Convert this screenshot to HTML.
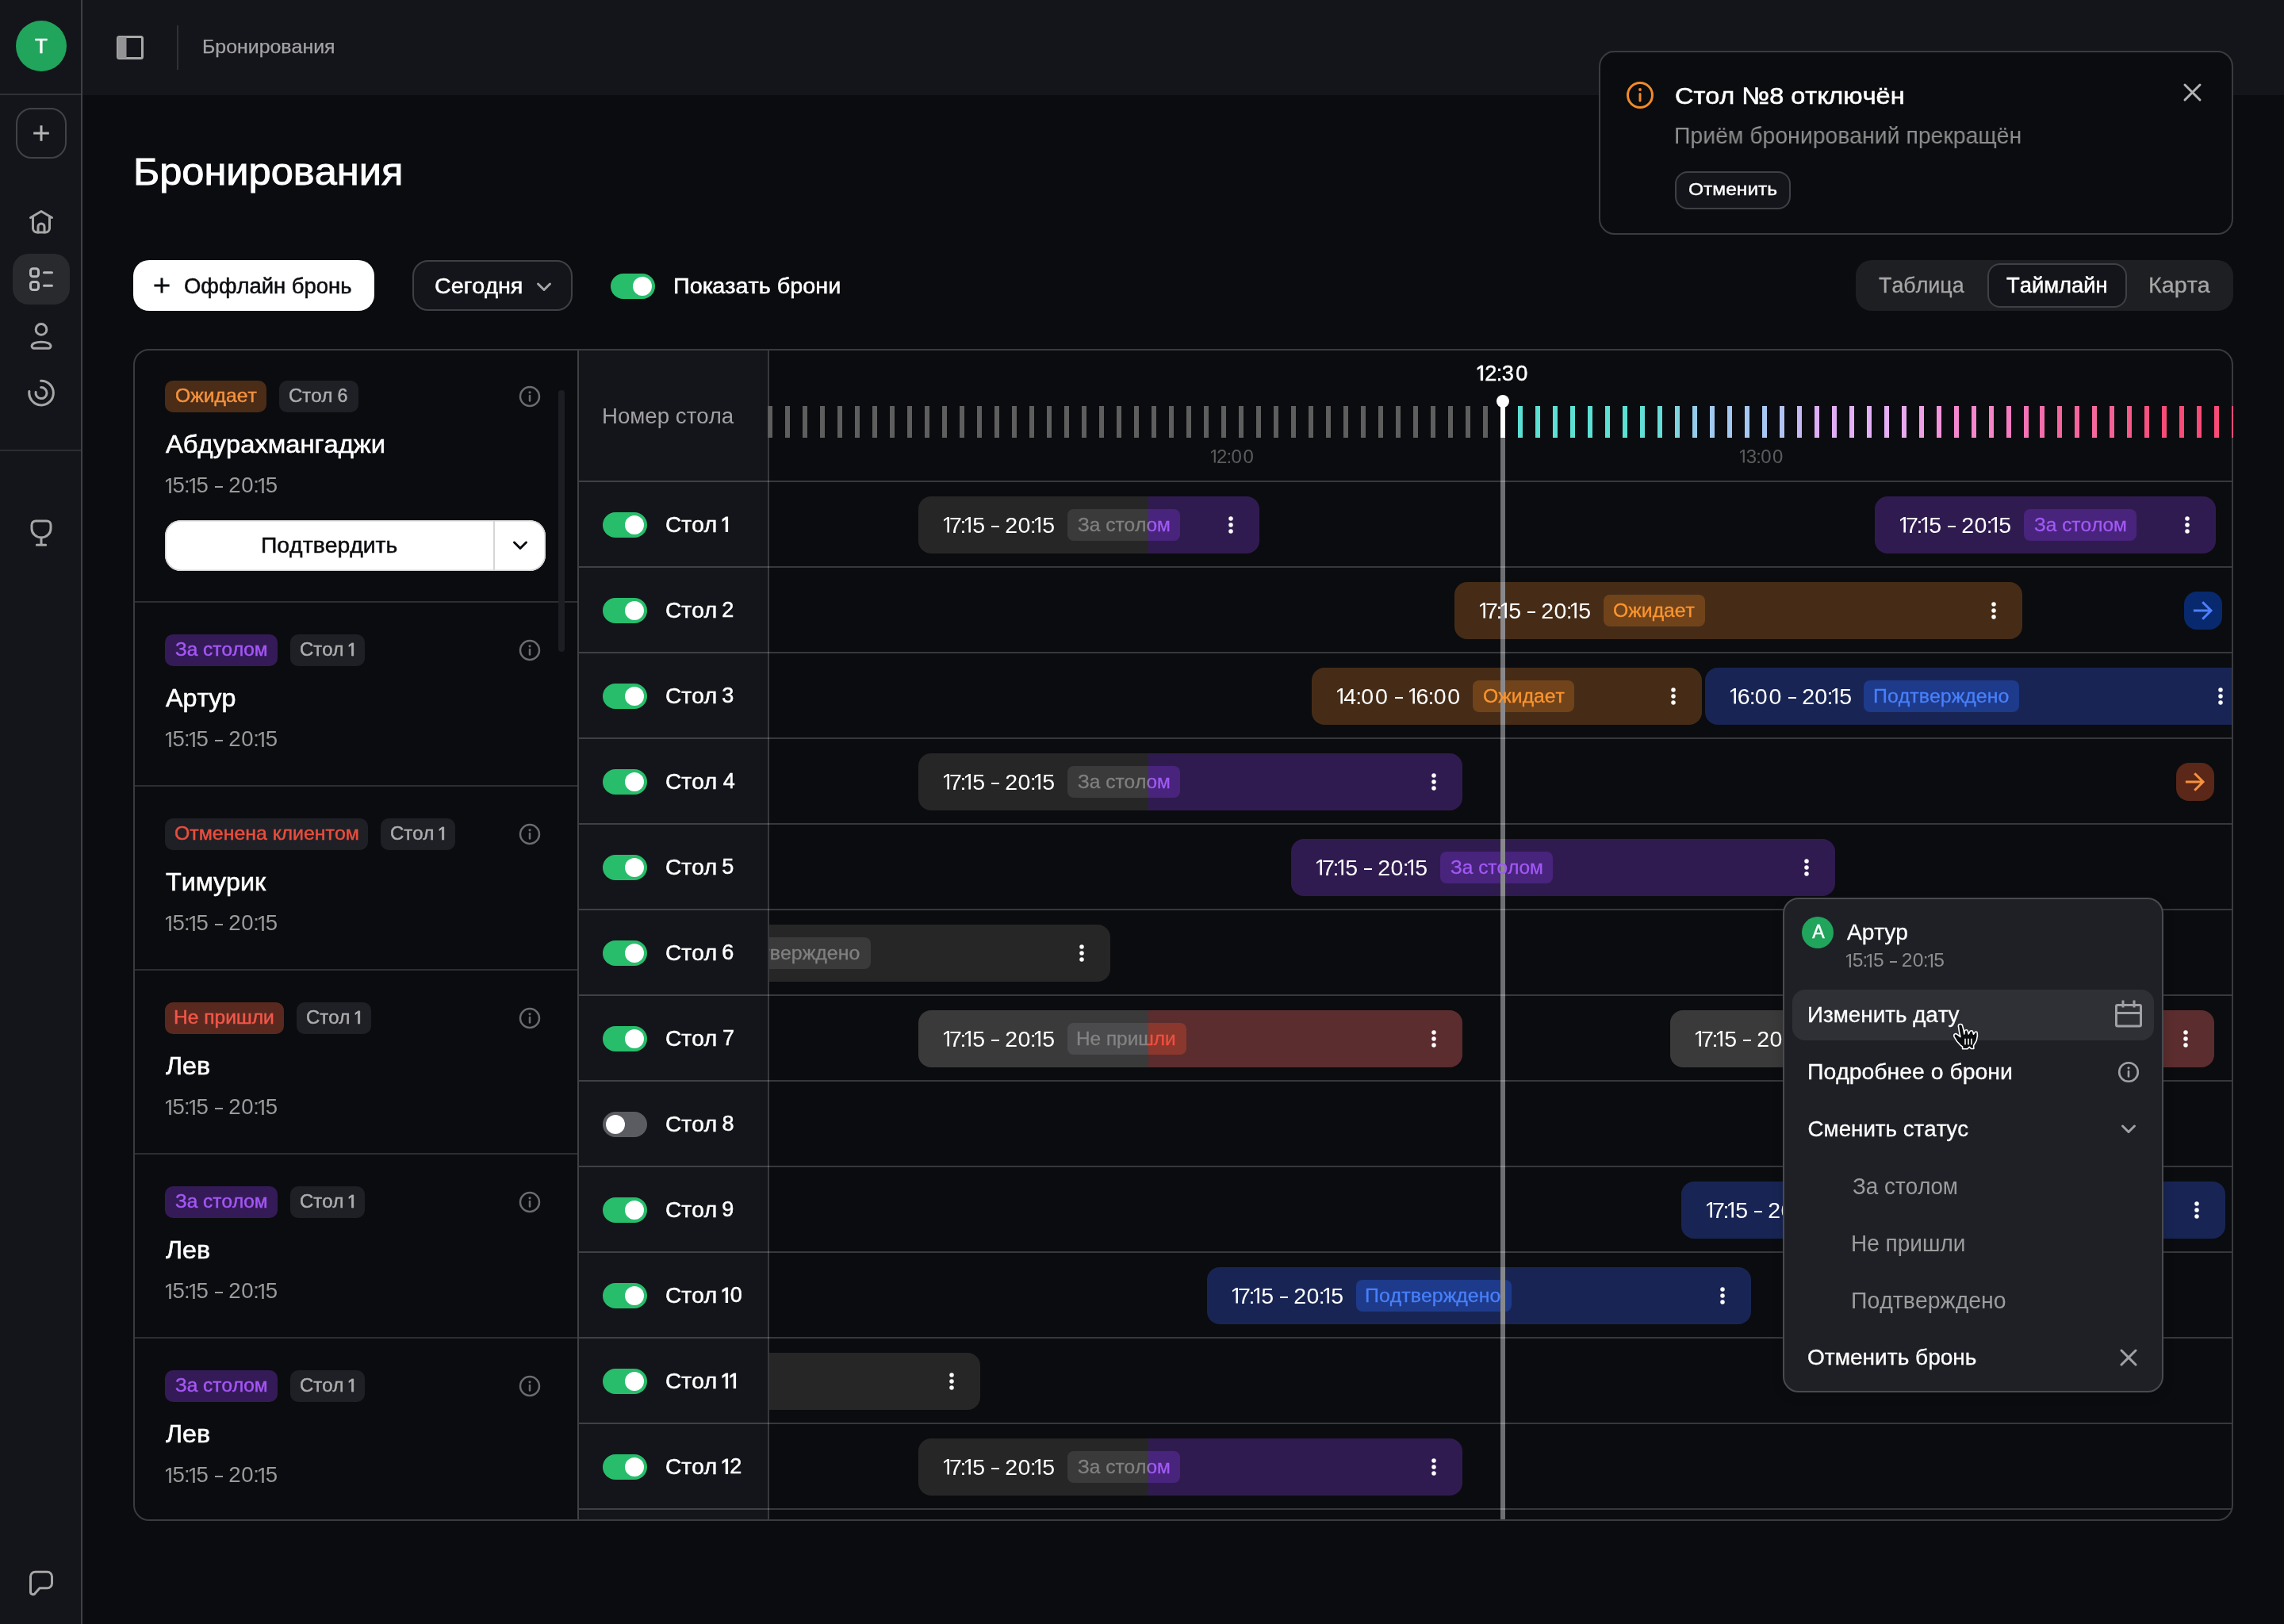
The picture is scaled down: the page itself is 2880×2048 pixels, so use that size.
<!DOCTYPE html>
<html lang="ru"><head><meta charset="utf-8"><title>Бронирования</title>
<style>
html,body{margin:0;padding:0;background:#0b0c0f;}
body{width:2880px;height:2048px;position:relative;overflow:hidden;font-family:"Liberation Sans",sans-serif;font-kerning:none;}
.b{position:absolute;box-sizing:border-box;display:block;}
.t{position:absolute;white-space:pre;line-height:1;display:block;transform-origin:0 0;}
svg{overflow:visible}
@media (max-width:1600px){#root{transform:scale(0.5);transform-origin:0 0;}}
#root{position:absolute;left:0;top:0;width:2880px;height:2048px;will-change:transform;}
</style></head><body><div id="root">
<div class="b" style="left:0px;top:0px;width:2880px;height:120px;background:#14151a;"></div>
<div class="b" style="left:0px;top:0px;width:104px;height:2048px;background:#14151a;border-right:2px solid #3f4045;"></div>
<div class="b" style="left:0px;top:118px;width:102px;height:2px;background:#303136;"></div>
<div class="b" style="left:0px;top:567px;width:102px;height:2px;background:#2c2d32;"></div>
<div class="b" style="left:20px;top:26px;width:64px;height:64px;background:#21a45b;border-radius:32px;"></div>
<span class="t" style="left:44.11px;top:45.35px;font-size:26.05px;color:#ffffff;-webkit-text-stroke:0.5px #ffffff;">Т</span>
<svg class="b" style="left:147px;top:45px" width="34" height="30" viewBox="0 0 34 30"><rect x="1.5" y="1.5" width="31" height="27" rx="2" fill="none" stroke="#a8a8a8" stroke-width="3"/><rect x="1.5" y="1.5" width="11" height="27" fill="#939396"/></svg>
<div class="b" style="left:223px;top:32px;width:2px;height:56px;background:#303136;"></div>
<span class="t" style="left:255.01px;top:47.50px;font-size:23.57px;color:#a4a4a7;transform:scaleX(1.0561);-webkit-text-stroke:0.25px #a4a4a7;">Бронирования</span>
<div class="b" style="left:20px;top:136px;width:64px;height:64px;border-radius:20px;border:2px solid #414246;"></div>
<svg class="b" style="left:40px;top:156px" width="24" height="24" viewBox="0 0 24 24" fill="none" stroke="#b4b4b4" stroke-width="3"><path d="M12 2.200v19.600M2.200 12h19.600"/></svg>
<svg class="b" style="left:34px;top:262px" width="36" height="36" viewBox="0 0 36 36" fill="none" stroke="#a6a6a6" stroke-width="3" stroke-linecap="round" stroke-linejoin="round"><path d="M4.5 12.5L18 4.5L31.5 12.5"/><path d="M7.5 11.5V26a5 5 0 0 0 5 5h11a5 5 0 0 0 5-5V11.5"/><path d="M14 31v-7a4 4 0 0 1 8 0v7"/></svg>
<div class="b" style="left:16px;top:320px;width:72px;height:64px;background:#292a2d;border-radius:20px;"></div>
<svg class="b" style="left:34px;top:334px" width="36" height="36" viewBox="0 0 36 36" fill="none" stroke="#b8b8bb" stroke-width="3" stroke-linecap="round"><rect x="4.5" y="4.7" width="10" height="10" rx="3"/><rect x="4.5" y="21.5" width="10" height="10" rx="3"/><path d="M21.5 9.8h10M21.5 26.2h10"/></svg>
<svg class="b" style="left:34px;top:406px" width="36" height="36" viewBox="0 0 36 36" fill="none" stroke="#a6a6a6" stroke-width="3" stroke-linejoin="round"><circle cx="18" cy="9.4" r="6.8"/><path d="M8.800 33.300H27.300A2.700 2.700 0 0 0 30 30.600C30 27.400 25 25.200 18 25.200S6.100 27.400 6.100 30.600A2.700 2.700 0 0 0 8.800 33.300Z"/></svg>
<svg class="b" style="left:34px;top:478px" width="36" height="36" viewBox="0 0 36 36" fill="none" stroke="#a6a6a6" stroke-width="3" stroke-linecap="round"><path d="M17.5 2.300A15.300 15.300 0 1 1 2.900 15.500"/><path d="M17.700 10.600A7 7 0 1 1 11.100 16.500"/></svg>
<svg class="b" style="left:34px;top:654px" width="36" height="36" viewBox="0 0 36 36" fill="none" stroke="#a6a6a6" stroke-width="3" stroke-linecap="round" stroke-linejoin="round"><path d="M11 2.900h14a5 5 0 0 1 5 5v4.500a12 11.500 0 0 1 -24 0v-4.500a5 5 0 0 1 5-5z"/><path d="M18 24v9.300M12.300 33.300h11.400"/></svg>
<svg class="b" style="left:34px;top:1978px" width="36" height="36" viewBox="0 0 36 36" fill="none" stroke="#a6a6a6" stroke-width="3" stroke-linecap="round" stroke-linejoin="round"><path d="M10.500 4.300h15a6 6 0 0 1 6 6v8.400a6 6 0 0 1 -6 6h-9.500l-5.500 6.300a3.200 3.200 0 0 1 -6-1.800v-18.900a6 6 0 0 1 6-6z"/></svg>
<span class="t" style="left:167.75px;top:192.13px;font-size:48.39px;color:#ffffff;transform:scaleX(1.0452);-webkit-text-stroke:0.9px #ffffff;">Бронирования</span>
<div class="b" style="left:168px;top:328px;width:304px;height:64px;background:#ffffff;border-radius:20px;"></div>
<svg class="b" style="left:192px;top:348px" width="24" height="24" viewBox="0 0 24 24" fill="none" stroke="#0b0c0f" stroke-width="3"><path d="M12 2.400v19.200M2.400 12h19.200"/></svg>
<span class="t" style="left:232.00px;top:346.71px;font-size:27.15px;color:#0b0c0f;transform:scaleX(1.0110);-webkit-text-stroke:0.5px #0b0c0f;">Оффлайн бронь</span>
<div class="b" style="left:520px;top:328px;width:202px;height:64px;background:#14151a;border-radius:20px;border:2px solid #3f4045;"></div>
<span class="t" style="left:547.54px;top:346.71px;font-size:27.15px;color:#ffffff;transform:scaleX(1.0580);-webkit-text-stroke:0.5px #ffffff;">Сегодня</span>
<svg class="b" style="left:674px;top:350px" width="24" height="24" viewBox="0 0 24 24" fill="none" stroke="#a6a6a6" stroke-width="3" stroke-linecap="round" stroke-linejoin="round"><path d="M4.500 8l7.500 7.500l7.500-7.500"/></svg>
<div class="b" style="left:770px;top:345px;width:56px;height:32px;background:#27bd6b;border-radius:16px;"></div>
<div class="b" style="left:798px;top:349px;width:24px;height:24px;background:#ffffff;border-radius:12px;"></div>
<span class="t" style="left:848.86px;top:346.71px;font-size:27.15px;color:#ffffff;transform:scaleX(1.0616);-webkit-text-stroke:0.5px #ffffff;">Показать брони</span>
<div class="b" style="left:2340px;top:328px;width:476px;height:64px;background:#1e1f23;border-radius:20px;"></div>
<div class="b" style="left:2506px;top:332px;width:176px;height:56px;background:#14151a;border-radius:16px;border:2px solid #3f4045;"></div>
<span class="t" style="left:2369.10px;top:345.92px;font-size:27.73px;color:#a6a6a6;transform:scaleX(0.9675);-webkit-text-stroke:0.3px #a6a6a6;">Таблица</span>
<span class="t" style="left:2530.39px;top:346.21px;font-size:27.15px;color:#ffffff;transform:scaleX(1.0079);-webkit-text-stroke:0.5px #ffffff;">Таймлайн</span>
<span class="t" style="left:2708.95px;top:345.92px;font-size:27.73px;color:#a6a6a6;transform:scaleX(1.0351);-webkit-text-stroke:0.3px #a6a6a6;">Карта</span>
<div class="b" style="left:2016px;top:64px;width:800px;height:232px;background:#0b0c0f;border-radius:20px;border:2px solid #3a3b3e;"></div>
<svg class="b" style="left:2050px;top:102px" width="36" height="36" viewBox="0 0 36 36" fill="none" stroke="#f28a2a" stroke-width="3" stroke-linecap="round"><circle cx="18" cy="18" r="15.500"/><path d="M18 16.500v8.500"/><circle cx="18" cy="11" r="1.900" fill="#f28a2a" stroke="none"/></svg>
<span class="t" style="left:2111.70px;top:105.82px;font-size:29.8px;color:#ffffff;transform:scaleX(1.0896);-webkit-text-stroke:0.55px #ffffff;">Стол №8 отключён</span>
<span class="t" style="left:2110.50px;top:157.49px;font-size:28.6px;color:#8e8e8e;transform:scaleX(0.9930);">Приём бронирований прекращён</span>
<div class="b" style="left:2112px;top:216px;width:146px;height:48px;background:#14151a;border-radius:16px;border:2px solid #3f4045;"></div>
<span class="t" style="left:2128.74px;top:227.16px;font-size:22.84px;color:#ffffff;transform:scaleX(1.0748);-webkit-text-stroke:0.4px #ffffff;">Отменить</span>
<svg class="b" style="left:2752px;top:104px" width="25" height="25" viewBox="0 0 25 25" fill="none" stroke="#b4b4b4" stroke-width="3" stroke-linecap="round"><path d="M3 3l19 19M22 3l-19 19"/></svg>
<div class="b" style="left:168px;top:440px;width:2648px;height:1478px;border:2px solid #3a3b3e;border-radius:20px;overflow:hidden;">
<div class="b" style="left:38px;top:38px;width:128px;height:40px;background:#4a2c17;border-radius:10px;"></div>
<span class="t" style="left:50.68px;top:45.61px;font-size:23.2px;color:#f5923e;transform:scaleX(1.0653);-webkit-text-stroke:0.45px #f5923e;">Ожидает</span>
<div class="b" style="left:182px;top:38px;width:100px;height:40px;background:#1f2026;border-radius:10px;"></div>
<span class="t" style="left:194.03px;top:45.61px;font-size:23.2px;color:#adadad;transform:scaleX(1.0327);-webkit-text-stroke:0.45px #adadad;">Стол</span>
<span class="t" style="left:255.56px;top:45.61px;font-size:23.2px;color:#adadad;-webkit-text-stroke:0.45px #adadad;">6</span>
<svg class="b" style="left:484px;top:44px;" width="28" height="28" viewBox="0 0 28 28"><circle cx="14" cy="14" r="12" fill="none" stroke="#6b6b70" stroke-width="2.5"/><path d="M14 13v6.500" stroke="#6b6b70" stroke-width="2.5" stroke-linecap="round"/><circle cx="14" cy="8.800" r="1.600" fill="#6b6b70"/></svg>
<span class="t" style="left:39.29px;top:103.04px;font-size:31.2px;color:#ffffff;transform:scaleX(1.0491);-webkit-text-stroke:0.55px #ffffff;">Абдурахмангаджи</span>
<svg class="b" style="left:38.60px;top:160.71px;" width="6.72" height="18.99" viewBox="197 0 499 1409"><path transform="translate(0,1409) scale(1,-1)" d="M515 0L515 1237L197 1010L197 1180L530 1409L696 1409L696 0Z" fill="#9b9b9b"/></svg>
<span class="t" style="left:47.51px;top:156.33px;font-size:27.6px;color:#9b9b9b;">5</span>
<span class="t" style="left:62.01px;top:156.33px;font-size:27.6px;color:#9b9b9b;">:</span>
<svg class="b" style="left:68.66px;top:160.71px;" width="6.72" height="18.99" viewBox="197 0 499 1409"><path transform="translate(0,1409) scale(1,-1)" d="M515 0L515 1237L197 1010L197 1180L530 1409L696 1409L696 0Z" fill="#9b9b9b"/></svg>
<span class="t" style="left:77.57px;top:156.33px;font-size:27.6px;color:#9b9b9b;">5</span>
<div class="b" style="left:101.29px;top:171.39px;width:9.89px;height:1.99px;background:#9b9b9b;"></div>
<span class="t" style="left:118.33px;top:156.33px;font-size:27.6px;color:#9b9b9b;">2</span>
<span class="t" style="left:134.35px;top:156.33px;font-size:27.6px;color:#9b9b9b;">0</span>
<span class="t" style="left:149.21px;top:156.33px;font-size:27.6px;color:#9b9b9b;">:</span>
<svg class="b" style="left:155.87px;top:160.71px;" width="6.72" height="18.99" viewBox="197 0 499 1409"><path transform="translate(0,1409) scale(1,-1)" d="M515 0L515 1237L197 1010L197 1180L530 1409L696 1409L696 0Z" fill="#9b9b9b"/></svg>
<span class="t" style="left:164.78px;top:156.33px;font-size:27.6px;color:#9b9b9b;">5</span>
<div class="b" style="left:38px;top:358px;width:142px;height:40px;background:#341b57;border-radius:10px;"></div>
<span class="t" style="left:51.15px;top:365.61px;font-size:23.2px;color:#a457f5;transform:scaleX(1.0514);-webkit-text-stroke:0.45px #a457f5;">За столом</span>
<div class="b" style="left:196px;top:358px;width:94px;height:40px;background:#1f2026;border-radius:10px;"></div>
<span class="t" style="left:208.03px;top:365.61px;font-size:23.2px;color:#adadad;transform:scaleX(1.0327);-webkit-text-stroke:0.45px #adadad;">Стол</span>
<svg class="b" style="left:270.19px;top:369.29px;" width="5.65" height="15.96" viewBox="197 0 499 1409"><path transform="translate(0,1409) scale(1,-1)" d="M515 0L515 1237L197 1010L197 1180L530 1409L696 1409L696 0Z" fill="#adadad" stroke="#adadad" stroke-width="79"/></svg>
<svg class="b" style="left:484px;top:364px;" width="28" height="28" viewBox="0 0 28 28"><circle cx="14" cy="14" r="12" fill="none" stroke="#6b6b70" stroke-width="2.5"/><path d="M14 13v6.500" stroke="#6b6b70" stroke-width="2.5" stroke-linecap="round"/><circle cx="14" cy="8.800" r="1.600" fill="#6b6b70"/></svg>
<span class="t" style="left:39.29px;top:423.04px;font-size:31.2px;color:#ffffff;transform:scaleX(1.0365);-webkit-text-stroke:0.55px #ffffff;">Артур</span>
<svg class="b" style="left:38.60px;top:480.71px;" width="6.72" height="18.99" viewBox="197 0 499 1409"><path transform="translate(0,1409) scale(1,-1)" d="M515 0L515 1237L197 1010L197 1180L530 1409L696 1409L696 0Z" fill="#9b9b9b"/></svg>
<span class="t" style="left:47.51px;top:476.33px;font-size:27.6px;color:#9b9b9b;">5</span>
<span class="t" style="left:62.01px;top:476.33px;font-size:27.6px;color:#9b9b9b;">:</span>
<svg class="b" style="left:68.66px;top:480.71px;" width="6.72" height="18.99" viewBox="197 0 499 1409"><path transform="translate(0,1409) scale(1,-1)" d="M515 0L515 1237L197 1010L197 1180L530 1409L696 1409L696 0Z" fill="#9b9b9b"/></svg>
<span class="t" style="left:77.57px;top:476.33px;font-size:27.6px;color:#9b9b9b;">5</span>
<div class="b" style="left:101.29px;top:491.39px;width:9.89px;height:1.99px;background:#9b9b9b;"></div>
<span class="t" style="left:118.33px;top:476.33px;font-size:27.6px;color:#9b9b9b;">2</span>
<span class="t" style="left:134.35px;top:476.33px;font-size:27.6px;color:#9b9b9b;">0</span>
<span class="t" style="left:149.21px;top:476.33px;font-size:27.6px;color:#9b9b9b;">:</span>
<svg class="b" style="left:155.87px;top:480.71px;" width="6.72" height="18.99" viewBox="197 0 499 1409"><path transform="translate(0,1409) scale(1,-1)" d="M515 0L515 1237L197 1010L197 1180L530 1409L696 1409L696 0Z" fill="#9b9b9b"/></svg>
<span class="t" style="left:164.78px;top:476.33px;font-size:27.6px;color:#9b9b9b;">5</span>
<div class="b" style="left:38px;top:590px;width:256px;height:40px;background:#1f2026;border-radius:10px;"></div>
<span class="t" style="left:49.67px;top:597.61px;font-size:23.2px;color:#ea4e3d;transform:scaleX(1.0725);-webkit-text-stroke:0.45px #ea4e3d;">Отменена клиентом</span>
<div class="b" style="left:310px;top:590px;width:94px;height:40px;background:#1f2026;border-radius:10px;"></div>
<span class="t" style="left:322.03px;top:597.61px;font-size:23.2px;color:#adadad;transform:scaleX(1.0327);-webkit-text-stroke:0.45px #adadad;">Стол</span>
<svg class="b" style="left:384.19px;top:601.29px;" width="5.65" height="15.96" viewBox="197 0 499 1409"><path transform="translate(0,1409) scale(1,-1)" d="M515 0L515 1237L197 1010L197 1180L530 1409L696 1409L696 0Z" fill="#adadad" stroke="#adadad" stroke-width="79"/></svg>
<svg class="b" style="left:484px;top:596px;" width="28" height="28" viewBox="0 0 28 28"><circle cx="14" cy="14" r="12" fill="none" stroke="#6b6b70" stroke-width="2.5"/><path d="M14 13v6.500" stroke="#6b6b70" stroke-width="2.5" stroke-linecap="round"/><circle cx="14" cy="8.800" r="1.600" fill="#6b6b70"/></svg>
<span class="t" style="left:38.62px;top:655.04px;font-size:31.2px;color:#ffffff;transform:scaleX(1.0353);-webkit-text-stroke:0.55px #ffffff;">Тимурик</span>
<svg class="b" style="left:38.60px;top:712.71px;" width="6.72" height="18.99" viewBox="197 0 499 1409"><path transform="translate(0,1409) scale(1,-1)" d="M515 0L515 1237L197 1010L197 1180L530 1409L696 1409L696 0Z" fill="#9b9b9b"/></svg>
<span class="t" style="left:47.51px;top:708.33px;font-size:27.6px;color:#9b9b9b;">5</span>
<span class="t" style="left:62.01px;top:708.33px;font-size:27.6px;color:#9b9b9b;">:</span>
<svg class="b" style="left:68.66px;top:712.71px;" width="6.72" height="18.99" viewBox="197 0 499 1409"><path transform="translate(0,1409) scale(1,-1)" d="M515 0L515 1237L197 1010L197 1180L530 1409L696 1409L696 0Z" fill="#9b9b9b"/></svg>
<span class="t" style="left:77.57px;top:708.33px;font-size:27.6px;color:#9b9b9b;">5</span>
<div class="b" style="left:101.29px;top:723.39px;width:9.89px;height:1.99px;background:#9b9b9b;"></div>
<span class="t" style="left:118.33px;top:708.33px;font-size:27.6px;color:#9b9b9b;">2</span>
<span class="t" style="left:134.35px;top:708.33px;font-size:27.6px;color:#9b9b9b;">0</span>
<span class="t" style="left:149.21px;top:708.33px;font-size:27.6px;color:#9b9b9b;">:</span>
<svg class="b" style="left:155.87px;top:712.71px;" width="6.72" height="18.99" viewBox="197 0 499 1409"><path transform="translate(0,1409) scale(1,-1)" d="M515 0L515 1237L197 1010L197 1180L530 1409L696 1409L696 0Z" fill="#9b9b9b"/></svg>
<span class="t" style="left:164.78px;top:708.33px;font-size:27.6px;color:#9b9b9b;">5</span>
<div class="b" style="left:38px;top:822px;width:150px;height:40px;background:#59291f;border-radius:10px;"></div>
<span class="t" style="left:49.43px;top:829.61px;font-size:23.2px;color:#f2574a;transform:scaleX(1.0601);-webkit-text-stroke:0.45px #f2574a;">Не пришли</span>
<div class="b" style="left:204px;top:822px;width:94px;height:40px;background:#1f2026;border-radius:10px;"></div>
<span class="t" style="left:216.03px;top:829.61px;font-size:23.2px;color:#adadad;transform:scaleX(1.0327);-webkit-text-stroke:0.45px #adadad;">Стол</span>
<svg class="b" style="left:278.19px;top:833.29px;" width="5.65" height="15.96" viewBox="197 0 499 1409"><path transform="translate(0,1409) scale(1,-1)" d="M515 0L515 1237L197 1010L197 1180L530 1409L696 1409L696 0Z" fill="#adadad" stroke="#adadad" stroke-width="79"/></svg>
<svg class="b" style="left:484px;top:828px;" width="28" height="28" viewBox="0 0 28 28"><circle cx="14" cy="14" r="12" fill="none" stroke="#6b6b70" stroke-width="2.5"/><path d="M14 13v6.500" stroke="#6b6b70" stroke-width="2.5" stroke-linecap="round"/><circle cx="14" cy="8.800" r="1.600" fill="#6b6b70"/></svg>
<span class="t" style="left:39.07px;top:887.04px;font-size:31.2px;color:#ffffff;transform:scaleX(1.0309);-webkit-text-stroke:0.55px #ffffff;">Лев</span>
<svg class="b" style="left:38.60px;top:944.71px;" width="6.72" height="18.99" viewBox="197 0 499 1409"><path transform="translate(0,1409) scale(1,-1)" d="M515 0L515 1237L197 1010L197 1180L530 1409L696 1409L696 0Z" fill="#9b9b9b"/></svg>
<span class="t" style="left:47.51px;top:940.33px;font-size:27.6px;color:#9b9b9b;">5</span>
<span class="t" style="left:62.01px;top:940.33px;font-size:27.6px;color:#9b9b9b;">:</span>
<svg class="b" style="left:68.66px;top:944.71px;" width="6.72" height="18.99" viewBox="197 0 499 1409"><path transform="translate(0,1409) scale(1,-1)" d="M515 0L515 1237L197 1010L197 1180L530 1409L696 1409L696 0Z" fill="#9b9b9b"/></svg>
<span class="t" style="left:77.57px;top:940.33px;font-size:27.6px;color:#9b9b9b;">5</span>
<div class="b" style="left:101.29px;top:955.39px;width:9.89px;height:1.99px;background:#9b9b9b;"></div>
<span class="t" style="left:118.33px;top:940.33px;font-size:27.6px;color:#9b9b9b;">2</span>
<span class="t" style="left:134.35px;top:940.33px;font-size:27.6px;color:#9b9b9b;">0</span>
<span class="t" style="left:149.21px;top:940.33px;font-size:27.6px;color:#9b9b9b;">:</span>
<svg class="b" style="left:155.87px;top:944.71px;" width="6.72" height="18.99" viewBox="197 0 499 1409"><path transform="translate(0,1409) scale(1,-1)" d="M515 0L515 1237L197 1010L197 1180L530 1409L696 1409L696 0Z" fill="#9b9b9b"/></svg>
<span class="t" style="left:164.78px;top:940.33px;font-size:27.6px;color:#9b9b9b;">5</span>
<div class="b" style="left:38px;top:1054px;width:142px;height:40px;background:#341b57;border-radius:10px;"></div>
<span class="t" style="left:51.15px;top:1061.61px;font-size:23.2px;color:#a457f5;transform:scaleX(1.0514);-webkit-text-stroke:0.45px #a457f5;">За столом</span>
<div class="b" style="left:196px;top:1054px;width:94px;height:40px;background:#1f2026;border-radius:10px;"></div>
<span class="t" style="left:208.03px;top:1061.61px;font-size:23.2px;color:#adadad;transform:scaleX(1.0327);-webkit-text-stroke:0.45px #adadad;">Стол</span>
<svg class="b" style="left:270.19px;top:1065.29px;" width="5.65" height="15.96" viewBox="197 0 499 1409"><path transform="translate(0,1409) scale(1,-1)" d="M515 0L515 1237L197 1010L197 1180L530 1409L696 1409L696 0Z" fill="#adadad" stroke="#adadad" stroke-width="79"/></svg>
<svg class="b" style="left:484px;top:1060px;" width="28" height="28" viewBox="0 0 28 28"><circle cx="14" cy="14" r="12" fill="none" stroke="#6b6b70" stroke-width="2.5"/><path d="M14 13v6.500" stroke="#6b6b70" stroke-width="2.5" stroke-linecap="round"/><circle cx="14" cy="8.800" r="1.600" fill="#6b6b70"/></svg>
<span class="t" style="left:39.07px;top:1119.04px;font-size:31.2px;color:#ffffff;transform:scaleX(1.0309);-webkit-text-stroke:0.55px #ffffff;">Лев</span>
<svg class="b" style="left:38.60px;top:1176.71px;" width="6.72" height="18.99" viewBox="197 0 499 1409"><path transform="translate(0,1409) scale(1,-1)" d="M515 0L515 1237L197 1010L197 1180L530 1409L696 1409L696 0Z" fill="#9b9b9b"/></svg>
<span class="t" style="left:47.51px;top:1172.33px;font-size:27.6px;color:#9b9b9b;">5</span>
<span class="t" style="left:62.01px;top:1172.33px;font-size:27.6px;color:#9b9b9b;">:</span>
<svg class="b" style="left:68.66px;top:1176.71px;" width="6.72" height="18.99" viewBox="197 0 499 1409"><path transform="translate(0,1409) scale(1,-1)" d="M515 0L515 1237L197 1010L197 1180L530 1409L696 1409L696 0Z" fill="#9b9b9b"/></svg>
<span class="t" style="left:77.57px;top:1172.33px;font-size:27.6px;color:#9b9b9b;">5</span>
<div class="b" style="left:101.29px;top:1187.39px;width:9.89px;height:1.99px;background:#9b9b9b;"></div>
<span class="t" style="left:118.33px;top:1172.33px;font-size:27.6px;color:#9b9b9b;">2</span>
<span class="t" style="left:134.35px;top:1172.33px;font-size:27.6px;color:#9b9b9b;">0</span>
<span class="t" style="left:149.21px;top:1172.33px;font-size:27.6px;color:#9b9b9b;">:</span>
<svg class="b" style="left:155.87px;top:1176.71px;" width="6.72" height="18.99" viewBox="197 0 499 1409"><path transform="translate(0,1409) scale(1,-1)" d="M515 0L515 1237L197 1010L197 1180L530 1409L696 1409L696 0Z" fill="#9b9b9b"/></svg>
<span class="t" style="left:164.78px;top:1172.33px;font-size:27.6px;color:#9b9b9b;">5</span>
<div class="b" style="left:38px;top:1286px;width:142px;height:40px;background:#341b57;border-radius:10px;"></div>
<span class="t" style="left:51.15px;top:1293.61px;font-size:23.2px;color:#a457f5;transform:scaleX(1.0514);-webkit-text-stroke:0.45px #a457f5;">За столом</span>
<div class="b" style="left:196px;top:1286px;width:94px;height:40px;background:#1f2026;border-radius:10px;"></div>
<span class="t" style="left:208.03px;top:1293.61px;font-size:23.2px;color:#adadad;transform:scaleX(1.0327);-webkit-text-stroke:0.45px #adadad;">Стол</span>
<svg class="b" style="left:270.19px;top:1297.29px;" width="5.65" height="15.96" viewBox="197 0 499 1409"><path transform="translate(0,1409) scale(1,-1)" d="M515 0L515 1237L197 1010L197 1180L530 1409L696 1409L696 0Z" fill="#adadad" stroke="#adadad" stroke-width="79"/></svg>
<svg class="b" style="left:484px;top:1292px;" width="28" height="28" viewBox="0 0 28 28"><circle cx="14" cy="14" r="12" fill="none" stroke="#6b6b70" stroke-width="2.5"/><path d="M14 13v6.500" stroke="#6b6b70" stroke-width="2.5" stroke-linecap="round"/><circle cx="14" cy="8.800" r="1.600" fill="#6b6b70"/></svg>
<span class="t" style="left:39.07px;top:1351.04px;font-size:31.2px;color:#ffffff;transform:scaleX(1.0309);-webkit-text-stroke:0.55px #ffffff;">Лев</span>
<svg class="b" style="left:38.60px;top:1408.71px;" width="6.72" height="18.99" viewBox="197 0 499 1409"><path transform="translate(0,1409) scale(1,-1)" d="M515 0L515 1237L197 1010L197 1180L530 1409L696 1409L696 0Z" fill="#9b9b9b"/></svg>
<span class="t" style="left:47.51px;top:1404.33px;font-size:27.6px;color:#9b9b9b;">5</span>
<span class="t" style="left:62.01px;top:1404.33px;font-size:27.6px;color:#9b9b9b;">:</span>
<svg class="b" style="left:68.66px;top:1408.71px;" width="6.72" height="18.99" viewBox="197 0 499 1409"><path transform="translate(0,1409) scale(1,-1)" d="M515 0L515 1237L197 1010L197 1180L530 1409L696 1409L696 0Z" fill="#9b9b9b"/></svg>
<span class="t" style="left:77.57px;top:1404.33px;font-size:27.6px;color:#9b9b9b;">5</span>
<div class="b" style="left:101.29px;top:1419.39px;width:9.89px;height:1.99px;background:#9b9b9b;"></div>
<span class="t" style="left:118.33px;top:1404.33px;font-size:27.6px;color:#9b9b9b;">2</span>
<span class="t" style="left:134.35px;top:1404.33px;font-size:27.6px;color:#9b9b9b;">0</span>
<span class="t" style="left:149.21px;top:1404.33px;font-size:27.6px;color:#9b9b9b;">:</span>
<svg class="b" style="left:155.87px;top:1408.71px;" width="6.72" height="18.99" viewBox="197 0 499 1409"><path transform="translate(0,1409) scale(1,-1)" d="M515 0L515 1237L197 1010L197 1180L530 1409L696 1409L696 0Z" fill="#9b9b9b"/></svg>
<span class="t" style="left:164.78px;top:1404.33px;font-size:27.6px;color:#9b9b9b;">5</span>
<div class="b" style="left:38px;top:214px;width:480px;height:64px;background:#ffffff;border-radius:20px;box-shadow:inset 0 0 0 1.5px #d4d4d4;"></div>
<div class="b" style="left:452px;top:215px;width:2px;height:62px;background:#d6d6d6;"></div>
<span class="t" style="left:159.20px;top:232.41px;font-size:27.15px;color:#0b0c0f;transform:scaleX(1.0440);-webkit-text-stroke:0.5px #0b0c0f;">Подтвердить</span>
<svg class="b" style="left:474px;top:234px;" width="24" height="24" viewBox="0 0 24 24"><path d="M4.500 8l7.500 7.500l7.500-7.500" fill="none" stroke="#0b0c0f" stroke-width="3" stroke-linecap="round" stroke-linejoin="round"/></svg>
<div class="b" style="left:0px;top:316px;width:558px;height:2px;background:#2d2e30;"></div>
<div class="b" style="left:0px;top:548px;width:558px;height:2px;background:#2d2e30;"></div>
<div class="b" style="left:0px;top:780px;width:558px;height:2px;background:#2d2e30;"></div>
<div class="b" style="left:0px;top:1012px;width:558px;height:2px;background:#2d2e30;"></div>
<div class="b" style="left:0px;top:1244px;width:558px;height:2px;background:#2d2e30;"></div>
<div class="b" style="left:534px;top:50px;width:8px;height:330px;background:#1d1e23;border-radius:4px;"></div>
<div class="b" style="left:558px;top:0px;width:240px;height:1476px;background:#14151a;"></div>
<div class="b" style="left:558px;top:0px;width:2px;height:1476px;background:rgba(255,255,255,0.185);"></div>
<div class="b" style="left:798px;top:0px;width:2px;height:1476px;background:rgba(255,255,255,0.185);"></div>
<span class="t" style="left:589.23px;top:67.76px;font-size:28.4px;color:#a1a1a4;transform:scaleX(0.9742);">Номер стола</span>
<div class="b" style="left:560px;top:164px;width:2086px;height:2px;background:rgba(255,255,255,0.185);"></div>
<div class="b" style="left:560px;top:272px;width:2086px;height:2px;background:rgba(255,255,255,0.185);"></div>
<div class="b" style="left:560px;top:380px;width:2086px;height:2px;background:rgba(255,255,255,0.185);"></div>
<div class="b" style="left:560px;top:488px;width:2086px;height:2px;background:rgba(255,255,255,0.185);"></div>
<div class="b" style="left:560px;top:596px;width:2086px;height:2px;background:rgba(255,255,255,0.185);"></div>
<div class="b" style="left:560px;top:704px;width:2086px;height:2px;background:rgba(255,255,255,0.185);"></div>
<div class="b" style="left:560px;top:812px;width:2086px;height:2px;background:rgba(255,255,255,0.185);"></div>
<div class="b" style="left:560px;top:920px;width:2086px;height:2px;background:rgba(255,255,255,0.185);"></div>
<div class="b" style="left:560px;top:1028px;width:2086px;height:2px;background:rgba(255,255,255,0.185);"></div>
<div class="b" style="left:560px;top:1136px;width:2086px;height:2px;background:rgba(255,255,255,0.185);"></div>
<div class="b" style="left:560px;top:1244px;width:2086px;height:2px;background:rgba(255,255,255,0.185);"></div>
<div class="b" style="left:560px;top:1352px;width:2086px;height:2px;background:rgba(255,255,255,0.185);"></div>
<div class="b" style="left:560px;top:1460px;width:2086px;height:2px;background:rgba(255,255,255,0.185);"></div>
<div class="b" style="left:590px;top:204px;width:56px;height:32px;background:#27bd6b;border-radius:16px;"></div>
<div class="b" style="left:618px;top:208px;width:24px;height:24px;background:#ffffff;border-radius:12px;"></div>
<span class="t" style="left:669.47px;top:206.11px;font-size:27.15px;color:#ffffff;transform:scaleX(1.0348);-webkit-text-stroke:0.5px #ffffff;">Стол</span>
<svg class="b" style="left:740.64px;top:210.49px;" width="6.59" height="18.61" viewBox="197 0 499 1409"><path transform="translate(0,1409) scale(1,-1)" d="M515 0L515 1237L197 1010L197 1180L530 1409L696 1409L696 0Z" fill="#ffffff" stroke="#ffffff" stroke-width="76"/></svg>
<div class="b" style="left:590px;top:312px;width:56px;height:32px;background:#27bd6b;border-radius:16px;"></div>
<div class="b" style="left:618px;top:316px;width:24px;height:24px;background:#ffffff;border-radius:12px;"></div>
<span class="t" style="left:669.47px;top:314.11px;font-size:27.15px;color:#ffffff;transform:scaleX(1.0348);-webkit-text-stroke:0.5px #ffffff;">Стол</span>
<span class="t" style="left:740.16px;top:314.20px;font-size:27.05px;color:#ffffff;-webkit-text-stroke:0.5px #ffffff;">2</span>
<div class="b" style="left:590px;top:420px;width:56px;height:32px;background:#27bd6b;border-radius:16px;"></div>
<div class="b" style="left:618px;top:424px;width:24px;height:24px;background:#ffffff;border-radius:12px;"></div>
<span class="t" style="left:669.47px;top:422.11px;font-size:27.15px;color:#ffffff;transform:scaleX(1.0348);-webkit-text-stroke:0.5px #ffffff;">Стол</span>
<span class="t" style="left:740.34px;top:422.20px;font-size:27.05px;color:#ffffff;-webkit-text-stroke:0.5px #ffffff;">3</span>
<div class="b" style="left:590px;top:528px;width:56px;height:32px;background:#27bd6b;border-radius:16px;"></div>
<div class="b" style="left:618px;top:532px;width:24px;height:24px;background:#ffffff;border-radius:12px;"></div>
<span class="t" style="left:669.47px;top:530.11px;font-size:27.15px;color:#ffffff;transform:scaleX(1.0348);-webkit-text-stroke:0.5px #ffffff;">Стол</span>
<span class="t" style="left:741.70px;top:530.20px;font-size:27.05px;color:#ffffff;-webkit-text-stroke:0.5px #ffffff;">4</span>
<div class="b" style="left:590px;top:636px;width:56px;height:32px;background:#27bd6b;border-radius:16px;"></div>
<div class="b" style="left:618px;top:640px;width:24px;height:24px;background:#ffffff;border-radius:12px;"></div>
<span class="t" style="left:669.47px;top:638.11px;font-size:27.15px;color:#ffffff;transform:scaleX(1.0348);-webkit-text-stroke:0.5px #ffffff;">Стол</span>
<span class="t" style="left:740.24px;top:638.20px;font-size:27.05px;color:#ffffff;-webkit-text-stroke:0.5px #ffffff;">5</span>
<div class="b" style="left:590px;top:744px;width:56px;height:32px;background:#27bd6b;border-radius:16px;"></div>
<div class="b" style="left:618px;top:748px;width:24px;height:24px;background:#ffffff;border-radius:12px;"></div>
<span class="t" style="left:669.47px;top:746.11px;font-size:27.15px;color:#ffffff;transform:scaleX(1.0348);-webkit-text-stroke:0.5px #ffffff;">Стол</span>
<span class="t" style="left:740.27px;top:746.20px;font-size:27.05px;color:#ffffff;-webkit-text-stroke:0.5px #ffffff;">6</span>
<div class="b" style="left:590px;top:852px;width:56px;height:32px;background:#27bd6b;border-radius:16px;"></div>
<div class="b" style="left:618px;top:856px;width:24px;height:24px;background:#ffffff;border-radius:12px;"></div>
<span class="t" style="left:669.47px;top:854.11px;font-size:27.15px;color:#ffffff;transform:scaleX(1.0348);-webkit-text-stroke:0.5px #ffffff;">Стол</span>
<span class="t" style="left:741.08px;top:854.20px;font-size:27.05px;color:#ffffff;-webkit-text-stroke:0.5px #ffffff;">7</span>
<div class="b" style="left:590px;top:960px;width:56px;height:32px;background:#5b5c62;border-radius:16px;"></div>
<div class="b" style="left:594px;top:964px;width:24px;height:24px;background:#ffffff;border-radius:12px;"></div>
<span class="t" style="left:669.47px;top:962.11px;font-size:27.15px;color:#ffffff;transform:scaleX(1.0348);-webkit-text-stroke:0.5px #ffffff;">Стол</span>
<span class="t" style="left:740.47px;top:962.20px;font-size:27.05px;color:#ffffff;-webkit-text-stroke:0.5px #ffffff;">8</span>
<div class="b" style="left:590px;top:1068px;width:56px;height:32px;background:#27bd6b;border-radius:16px;"></div>
<div class="b" style="left:618px;top:1072px;width:24px;height:24px;background:#ffffff;border-radius:12px;"></div>
<span class="t" style="left:669.47px;top:1070.11px;font-size:27.15px;color:#ffffff;transform:scaleX(1.0348);-webkit-text-stroke:0.5px #ffffff;">Стол</span>
<span class="t" style="left:740.37px;top:1070.20px;font-size:27.05px;color:#ffffff;-webkit-text-stroke:0.5px #ffffff;">9</span>
<div class="b" style="left:590px;top:1176px;width:56px;height:32px;background:#27bd6b;border-radius:16px;"></div>
<div class="b" style="left:618px;top:1180px;width:24px;height:24px;background:#ffffff;border-radius:12px;"></div>
<span class="t" style="left:669.47px;top:1178.11px;font-size:27.15px;color:#ffffff;transform:scaleX(1.0348);-webkit-text-stroke:0.5px #ffffff;">Стол</span>
<svg class="b" style="left:740.64px;top:1182.49px;" width="6.59" height="18.61" viewBox="197 0 499 1409"><path transform="translate(0,1409) scale(1,-1)" d="M515 0L515 1237L197 1010L197 1180L530 1409L696 1409L696 0Z" fill="#ffffff" stroke="#ffffff" stroke-width="76"/></svg>
<span class="t" style="left:750.66px;top:1178.20px;font-size:27.05px;color:#ffffff;-webkit-text-stroke:0.5px #ffffff;">0</span>
<div class="b" style="left:590px;top:1284px;width:56px;height:32px;background:#27bd6b;border-radius:16px;"></div>
<div class="b" style="left:618px;top:1288px;width:24px;height:24px;background:#ffffff;border-radius:12px;"></div>
<span class="t" style="left:669.47px;top:1286.11px;font-size:27.15px;color:#ffffff;transform:scaleX(1.0348);-webkit-text-stroke:0.5px #ffffff;">Стол</span>
<svg class="b" style="left:740.64px;top:1290.49px;" width="6.59" height="18.61" viewBox="197 0 499 1409"><path transform="translate(0,1409) scale(1,-1)" d="M515 0L515 1237L197 1010L197 1180L530 1409L696 1409L696 0Z" fill="#ffffff" stroke="#ffffff" stroke-width="76"/></svg>
<svg class="b" style="left:750.73px;top:1290.49px;" width="6.59" height="18.61" viewBox="197 0 499 1409"><path transform="translate(0,1409) scale(1,-1)" d="M515 0L515 1237L197 1010L197 1180L530 1409L696 1409L696 0Z" fill="#ffffff" stroke="#ffffff" stroke-width="76"/></svg>
<div class="b" style="left:590px;top:1392px;width:56px;height:32px;background:#27bd6b;border-radius:16px;"></div>
<div class="b" style="left:618px;top:1396px;width:24px;height:24px;background:#ffffff;border-radius:12px;"></div>
<span class="t" style="left:669.47px;top:1394.11px;font-size:27.15px;color:#ffffff;transform:scaleX(1.0348);-webkit-text-stroke:0.5px #ffffff;">Стол</span>
<svg class="b" style="left:740.64px;top:1398.49px;" width="6.59" height="18.61" viewBox="197 0 499 1409"><path transform="translate(0,1409) scale(1,-1)" d="M515 0L515 1237L197 1010L197 1180L530 1409L696 1409L696 0Z" fill="#ffffff" stroke="#ffffff" stroke-width="76"/></svg>
<span class="t" style="left:750.25px;top:1394.20px;font-size:27.05px;color:#ffffff;-webkit-text-stroke:0.5px #ffffff;">2</span>
<div class="b" style="left:798px;top:70px;width:6px;height:40px;background:#5e5e5e;"></div>
<div class="b" style="left:820px;top:70px;width:6px;height:40px;background:#5e5e5e;"></div>
<div class="b" style="left:842px;top:70px;width:6px;height:40px;background:#5e5e5e;"></div>
<div class="b" style="left:864px;top:70px;width:6px;height:40px;background:#5e5e5e;"></div>
<div class="b" style="left:886px;top:70px;width:6px;height:40px;background:#5e5e5e;"></div>
<div class="b" style="left:908px;top:70px;width:6px;height:40px;background:#5e5e5e;"></div>
<div class="b" style="left:930px;top:70px;width:6px;height:40px;background:#5e5e5e;"></div>
<div class="b" style="left:952px;top:70px;width:6px;height:40px;background:#5e5e5e;"></div>
<div class="b" style="left:974px;top:70px;width:6px;height:40px;background:#5e5e5e;"></div>
<div class="b" style="left:996px;top:70px;width:6px;height:40px;background:#5e5e5e;"></div>
<div class="b" style="left:1018px;top:70px;width:6px;height:40px;background:#5e5e5e;"></div>
<div class="b" style="left:1040px;top:70px;width:6px;height:40px;background:#5e5e5e;"></div>
<div class="b" style="left:1062px;top:70px;width:6px;height:40px;background:#5e5e5e;"></div>
<div class="b" style="left:1084px;top:70px;width:6px;height:40px;background:#5e5e5e;"></div>
<div class="b" style="left:1106px;top:70px;width:6px;height:40px;background:#5e5e5e;"></div>
<div class="b" style="left:1128px;top:70px;width:6px;height:40px;background:#5e5e5e;"></div>
<div class="b" style="left:1150px;top:70px;width:6px;height:40px;background:#5e5e5e;"></div>
<div class="b" style="left:1172px;top:70px;width:6px;height:40px;background:#5e5e5e;"></div>
<div class="b" style="left:1194px;top:70px;width:6px;height:40px;background:#5e5e5e;"></div>
<div class="b" style="left:1216px;top:70px;width:6px;height:40px;background:#5e5e5e;"></div>
<div class="b" style="left:1238px;top:70px;width:6px;height:40px;background:#5e5e5e;"></div>
<div class="b" style="left:1260px;top:70px;width:6px;height:40px;background:#5e5e5e;"></div>
<div class="b" style="left:1282px;top:70px;width:6px;height:40px;background:#5e5e5e;"></div>
<div class="b" style="left:1304px;top:70px;width:6px;height:40px;background:#5e5e5e;"></div>
<div class="b" style="left:1326px;top:70px;width:6px;height:40px;background:#5e5e5e;"></div>
<div class="b" style="left:1348px;top:70px;width:6px;height:40px;background:#5e5e5e;"></div>
<div class="b" style="left:1370px;top:70px;width:6px;height:40px;background:#5e5e5e;"></div>
<div class="b" style="left:1392px;top:70px;width:6px;height:40px;background:#5e5e5e;"></div>
<div class="b" style="left:1414px;top:70px;width:6px;height:40px;background:#5e5e5e;"></div>
<div class="b" style="left:1436px;top:70px;width:6px;height:40px;background:#5e5e5e;"></div>
<div class="b" style="left:1458px;top:70px;width:6px;height:40px;background:#5e5e5e;"></div>
<div class="b" style="left:1480px;top:70px;width:6px;height:40px;background:#5e5e5e;"></div>
<div class="b" style="left:1502px;top:70px;width:6px;height:40px;background:#5e5e5e;"></div>
<div class="b" style="left:1524px;top:70px;width:6px;height:40px;background:#5e5e5e;"></div>
<div class="b" style="left:1546px;top:70px;width:6px;height:40px;background:#5e5e5e;"></div>
<div class="b" style="left:1568px;top:70px;width:6px;height:40px;background:#5e5e5e;"></div>
<div class="b" style="left:1590px;top:70px;width:6px;height:40px;background:#5e5e5e;"></div>
<div class="b" style="left:1612px;top:70px;width:6px;height:40px;background:#5e5e5e;"></div>
<div class="b" style="left:1634px;top:70px;width:6px;height:40px;background:#5e5e5e;"></div>
<div class="b" style="left:1656px;top:70px;width:6px;height:40px;background:#5e5e5e;"></div>
<div class="b" style="left:1678px;top:70px;width:6px;height:40px;background:#5e5e5e;"></div>
<div class="b" style="left:1700px;top:70px;width:6px;height:40px;background:#5e5e5e;"></div>
<div class="b" style="left:1744px;top:70px;width:6px;height:40px;background:#5ce0d3;"></div>
<div class="b" style="left:1766px;top:70px;width:6px;height:40px;background:#5ce0d3;"></div>
<div class="b" style="left:1788px;top:70px;width:6px;height:40px;background:#5ce0d3;"></div>
<div class="b" style="left:1810px;top:70px;width:6px;height:40px;background:#5ce0d3;"></div>
<div class="b" style="left:1832px;top:70px;width:6px;height:40px;background:#5ce0d3;"></div>
<div class="b" style="left:1854px;top:70px;width:6px;height:40px;background:#5ce0d3;"></div>
<div class="b" style="left:1876px;top:70px;width:6px;height:40px;background:#5ce0d3;"></div>
<div class="b" style="left:1898px;top:70px;width:6px;height:40px;background:#61ded5;"></div>
<div class="b" style="left:1920px;top:70px;width:6px;height:40px;background:#66dcd7;"></div>
<div class="b" style="left:1942px;top:70px;width:6px;height:40px;background:#7fd4e0;"></div>
<div class="b" style="left:1964px;top:70px;width:6px;height:40px;background:#94cdea;"></div>
<div class="b" style="left:1986px;top:70px;width:6px;height:40px;background:#a3c9f1;"></div>
<div class="b" style="left:2008px;top:70px;width:6px;height:40px;background:#a4c9f1;"></div>
<div class="b" style="left:2030px;top:70px;width:6px;height:40px;background:#a5c8f2;"></div>
<div class="b" style="left:2052px;top:70px;width:6px;height:40px;background:#a6c8f2;"></div>
<div class="b" style="left:2074px;top:70px;width:6px;height:40px;background:#b2c3f3;"></div>
<div class="b" style="left:2096px;top:70px;width:6px;height:40px;background:#c6b8f4;"></div>
<div class="b" style="left:2118px;top:70px;width:6px;height:40px;background:#dcaef5;"></div>
<div class="b" style="left:2140px;top:70px;width:6px;height:40px;background:#e0aef6;"></div>
<div class="b" style="left:2162px;top:70px;width:6px;height:40px;background:#e5aff7;"></div>
<div class="b" style="left:2184px;top:70px;width:6px;height:40px;background:#e5aff7;"></div>
<div class="b" style="left:2206px;top:70px;width:6px;height:40px;background:#e5aff7;"></div>
<div class="b" style="left:2228px;top:70px;width:6px;height:40px;background:#eaa8ee;"></div>
<div class="b" style="left:2250px;top:70px;width:6px;height:40px;background:#eea0e6;"></div>
<div class="b" style="left:2272px;top:70px;width:6px;height:40px;background:#f194da;"></div>
<div class="b" style="left:2294px;top:70px;width:6px;height:40px;background:#f487cf;"></div>
<div class="b" style="left:2316px;top:70px;width:6px;height:40px;background:#f486cc;"></div>
<div class="b" style="left:2338px;top:70px;width:6px;height:40px;background:#f585c8;"></div>
<div class="b" style="left:2360px;top:70px;width:6px;height:40px;background:#f57cbe;"></div>
<div class="b" style="left:2382px;top:70px;width:6px;height:40px;background:#f573b4;"></div>
<div class="b" style="left:2402px;top:70px;width:6px;height:40px;background:#f56caa;"></div>
<div class="b" style="left:2424px;top:70px;width:6px;height:40px;background:#f5659f;"></div>
<div class="b" style="left:2446px;top:70px;width:6px;height:40px;background:#f5669f;"></div>
<div class="b" style="left:2468px;top:70px;width:6px;height:40px;background:#f5689f;"></div>
<div class="b" style="left:2490px;top:70px;width:6px;height:40px;background:#f56194;"></div>
<div class="b" style="left:2512px;top:70px;width:6px;height:40px;background:#f55a8a;"></div>
<div class="b" style="left:2534px;top:70px;width:6px;height:40px;background:#f85281;"></div>
<div class="b" style="left:2556px;top:70px;width:6px;height:40px;background:#fa4b78;"></div>
<div class="b" style="left:2578px;top:70px;width:6px;height:40px;background:#fa4b78;"></div>
<div class="b" style="left:2600px;top:70px;width:6px;height:40px;background:#fa4b78;"></div>
<div class="b" style="left:2622px;top:70px;width:6px;height:40px;background:#fa4b78;"></div>
<div class="b" style="left:2644px;top:70px;width:6px;height:40px;background:#fa4b78;"></div>
<svg class="b" style="left:1356.64px;top:125.49px;" width="5.85" height="16.51" viewBox="197 0 499 1409"><path transform="translate(0,1409) scale(1,-1)" d="M515 0L515 1237L197 1010L197 1180L530 1409L696 1409L696 0Z" fill="#5c5c5c"/></svg>
<span class="t" style="left:1364.09px;top:121.68px;font-size:24px;color:#5c5c5c;">2</span>
<span class="t" style="left:1376.48px;top:121.68px;font-size:24px;color:#5c5c5c;">:</span>
<span class="t" style="left:1382.53px;top:121.68px;font-size:24px;color:#5c5c5c;">0</span>
<span class="t" style="left:1397.44px;top:121.68px;font-size:24px;color:#5c5c5c;">0</span>
<svg class="b" style="left:2024.14px;top:125.49px;" width="5.85" height="16.51" viewBox="197 0 499 1409"><path transform="translate(0,1409) scale(1,-1)" d="M515 0L515 1237L197 1010L197 1180L530 1409L696 1409L696 0Z" fill="#5c5c5c"/></svg>
<span class="t" style="left:2031.74px;top:121.68px;font-size:24px;color:#5c5c5c;">3</span>
<span class="t" style="left:2044.15px;top:121.68px;font-size:24px;color:#5c5c5c;">:</span>
<span class="t" style="left:2050.20px;top:121.68px;font-size:24px;color:#5c5c5c;">0</span>
<span class="t" style="left:2065.11px;top:121.68px;font-size:24px;color:#5c5c5c;">0</span>
<svg class="b" style="left:1693.09px;top:18.84px;" width="6.63" height="18.71" viewBox="197 0 499 1409"><path transform="translate(0,1409) scale(1,-1)" d="M515 0L515 1237L197 1010L197 1180L530 1409L696 1409L696 0Z" fill="#ffffff" stroke="#ffffff" stroke-width="68"/></svg>
<span class="t" style="left:1702.14px;top:14.52px;font-size:27.2px;color:#ffffff;-webkit-text-stroke:0.45px #ffffff;">2</span>
<span class="t" style="left:1716.67px;top:14.52px;font-size:27.2px;color:#ffffff;-webkit-text-stroke:0.45px #ffffff;">:</span>
<span class="t" style="left:1723.82px;top:14.52px;font-size:27.2px;color:#ffffff;-webkit-text-stroke:0.45px #ffffff;">3</span>
<span class="t" style="left:1741.14px;top:14.52px;font-size:27.2px;color:#ffffff;-webkit-text-stroke:0.45px #ffffff;">0</span>
<div class="b" style="left:800px;top:0px;width:1844px;height:1474px;overflow:hidden;">
<div class="b" style="left:188px;top:184px;width:430px;height:72px;background:linear-gradient(90deg,#262626 290px,#301b50 290px);border-radius:16px;"></div>
<svg class="b" style="left:219.73px;top:210.29px;z-index:3;" width="6.94" height="19.61" viewBox="197 0 499 1409"><path transform="translate(0,1409) scale(1,-1)" d="M515 0L515 1237L197 1010L197 1180L530 1409L696 1409L696 0Z" fill="#ffffff"/></svg>
<span class="t" style="left:226.96px;top:205.77px;font-size:28.5px;color:#ffffff;z-index:3;">7</span>
<span class="t" style="left:240.49px;top:205.77px;font-size:28.5px;color:#ffffff;z-index:3;">:</span>
<svg class="b" style="left:247.23px;top:210.29px;z-index:3;" width="6.94" height="19.61" viewBox="197 0 499 1409"><path transform="translate(0,1409) scale(1,-1)" d="M515 0L515 1237L197 1010L197 1180L530 1409L696 1409L696 0Z" fill="#ffffff"/></svg>
<span class="t" style="left:256.15px;top:205.77px;font-size:28.5px;color:#ffffff;z-index:3;">5</span>
<div class="b" style="left:280.30px;top:221.32px;width:10.00px;height:2.05px;background:#ffffff;z-index:3;"></div>
<span class="t" style="left:297.37px;top:205.77px;font-size:28.5px;color:#ffffff;z-index:3;">2</span>
<span class="t" style="left:313.57px;top:205.77px;font-size:28.5px;color:#ffffff;z-index:3;">0</span>
<span class="t" style="left:328.69px;top:205.77px;font-size:28.5px;color:#ffffff;z-index:3;">:</span>
<svg class="b" style="left:335.43px;top:210.29px;z-index:3;" width="6.94" height="19.61" viewBox="197 0 499 1409"><path transform="translate(0,1409) scale(1,-1)" d="M515 0L515 1237L197 1010L197 1180L530 1409L696 1409L696 0Z" fill="#ffffff"/></svg>
<span class="t" style="left:344.35px;top:205.77px;font-size:28.5px;color:#ffffff;z-index:3;">5</span>
<div class="b" style="left:375.5999999999997px;top:200px;width:142px;height:40px;background:linear-gradient(90deg,#3a3a3a 102.40000000000032px,#48247c 102.40000000000032px);border-radius:8px;"></div>
<span class="t" style="left:388.60px;top:208.52px;font-size:23.6px;color:transparent;transform:scaleX(1.0363);color:transparent;background:linear-gradient(90deg,#808080 86.27px,#a259f5 86.27px);-webkit-background-clip:text;background-clip:text;-webkit-text-stroke:0.35px transparent;z-index:3;">За столом</span>
<svg class="b" style="left:578px;top:208px;" width="8" height="24" viewBox="0 0 8 24"><circle cx="4" cy="4" r="2.750" fill="#ffffff"/><circle cx="4" cy="12" r="2.750" fill="#ffffff"/><circle cx="4" cy="20" r="2.750" fill="#ffffff"/></svg>
<div class="b" style="left:1394px;top:184px;width:430px;height:72px;background:#301b50;border-radius:16px;"></div>
<svg class="b" style="left:1425.73px;top:210.29px;z-index:3;" width="6.94" height="19.61" viewBox="197 0 499 1409"><path transform="translate(0,1409) scale(1,-1)" d="M515 0L515 1237L197 1010L197 1180L530 1409L696 1409L696 0Z" fill="#ffffff"/></svg>
<span class="t" style="left:1432.96px;top:205.77px;font-size:28.5px;color:#ffffff;z-index:3;">7</span>
<span class="t" style="left:1446.49px;top:205.77px;font-size:28.5px;color:#ffffff;z-index:3;">:</span>
<svg class="b" style="left:1453.23px;top:210.29px;z-index:3;" width="6.94" height="19.61" viewBox="197 0 499 1409"><path transform="translate(0,1409) scale(1,-1)" d="M515 0L515 1237L197 1010L197 1180L530 1409L696 1409L696 0Z" fill="#ffffff"/></svg>
<span class="t" style="left:1462.15px;top:205.77px;font-size:28.5px;color:#ffffff;z-index:3;">5</span>
<div class="b" style="left:1486.30px;top:221.32px;width:10.00px;height:2.05px;background:#ffffff;z-index:3;"></div>
<span class="t" style="left:1503.37px;top:205.77px;font-size:28.5px;color:#ffffff;z-index:3;">2</span>
<span class="t" style="left:1519.57px;top:205.77px;font-size:28.5px;color:#ffffff;z-index:3;">0</span>
<span class="t" style="left:1534.69px;top:205.77px;font-size:28.5px;color:#ffffff;z-index:3;">:</span>
<svg class="b" style="left:1541.43px;top:210.29px;z-index:3;" width="6.94" height="19.61" viewBox="197 0 499 1409"><path transform="translate(0,1409) scale(1,-1)" d="M515 0L515 1237L197 1010L197 1180L530 1409L696 1409L696 0Z" fill="#ffffff"/></svg>
<span class="t" style="left:1550.35px;top:205.77px;font-size:28.5px;color:#ffffff;z-index:3;">5</span>
<div class="b" style="left:1581.6000000000013px;top:200px;width:142px;height:40px;background:#48247c;border-radius:8px;"></div>
<span class="t" style="left:1594.60px;top:208.63px;font-size:23.23px;color:#a259f5;transform:scaleX(1.0528);-webkit-text-stroke:0.3px #a259f5;z-index:3;">За столом</span>
<svg class="b" style="left:1784px;top:208px;" width="8" height="24" viewBox="0 0 8 24"><circle cx="4" cy="4" r="2.750" fill="#ffffff"/><circle cx="4" cy="12" r="2.750" fill="#ffffff"/><circle cx="4" cy="20" r="2.750" fill="#ffffff"/></svg>
<div class="b" style="left:864px;top:292px;width:716px;height:72px;background:#462c17;border-radius:16px;"></div>
<svg class="b" style="left:895.73px;top:318.29px;z-index:3;" width="6.94" height="19.61" viewBox="197 0 499 1409"><path transform="translate(0,1409) scale(1,-1)" d="M515 0L515 1237L197 1010L197 1180L530 1409L696 1409L696 0Z" fill="#ffffff"/></svg>
<span class="t" style="left:902.96px;top:313.77px;font-size:28.5px;color:#ffffff;z-index:3;">7</span>
<span class="t" style="left:916.49px;top:313.77px;font-size:28.5px;color:#ffffff;z-index:3;">:</span>
<svg class="b" style="left:923.23px;top:318.29px;z-index:3;" width="6.94" height="19.61" viewBox="197 0 499 1409"><path transform="translate(0,1409) scale(1,-1)" d="M515 0L515 1237L197 1010L197 1180L530 1409L696 1409L696 0Z" fill="#ffffff"/></svg>
<span class="t" style="left:932.15px;top:313.77px;font-size:28.5px;color:#ffffff;z-index:3;">5</span>
<div class="b" style="left:956.30px;top:329.32px;width:10.00px;height:2.05px;background:#ffffff;z-index:3;"></div>
<span class="t" style="left:973.37px;top:313.77px;font-size:28.5px;color:#ffffff;z-index:3;">2</span>
<span class="t" style="left:989.57px;top:313.77px;font-size:28.5px;color:#ffffff;z-index:3;">0</span>
<span class="t" style="left:1004.69px;top:313.77px;font-size:28.5px;color:#ffffff;z-index:3;">:</span>
<svg class="b" style="left:1011.43px;top:318.29px;z-index:3;" width="6.94" height="19.61" viewBox="197 0 499 1409"><path transform="translate(0,1409) scale(1,-1)" d="M515 0L515 1237L197 1010L197 1180L530 1409L696 1409L696 0Z" fill="#ffffff"/></svg>
<span class="t" style="left:1020.35px;top:313.77px;font-size:28.5px;color:#ffffff;z-index:3;">5</span>
<div class="b" style="left:1051.5999999999997px;top:308px;width:128px;height:40px;background:#70431b;border-radius:8px;"></div>
<span class="t" style="left:1064.23px;top:316.63px;font-size:23.23px;color:#fb952e;transform:scaleX(1.0660);-webkit-text-stroke:0.3px #fb952e;z-index:3;">Ожидает</span>
<svg class="b" style="left:1540px;top:316px;" width="8" height="24" viewBox="0 0 8 24"><circle cx="4" cy="4" r="2.750" fill="#ffffff"/><circle cx="4" cy="12" r="2.750" fill="#ffffff"/><circle cx="4" cy="20" r="2.750" fill="#ffffff"/></svg>
<div class="b" style="left:684px;top:400px;width:492px;height:72px;background:#462c17;border-radius:16px;"></div>
<svg class="b" style="left:715.73px;top:426.29px;z-index:3;" width="6.94" height="19.61" viewBox="197 0 499 1409"><path transform="translate(0,1409) scale(1,-1)" d="M515 0L515 1237L197 1010L197 1180L530 1409L696 1409L696 0Z" fill="#ffffff"/></svg>
<span class="t" style="left:724.17px;top:421.77px;font-size:28.5px;color:#ffffff;z-index:3;">4</span>
<span class="t" style="left:739.19px;top:421.77px;font-size:28.5px;color:#ffffff;z-index:3;">:</span>
<span class="t" style="left:746.37px;top:421.77px;font-size:28.5px;color:#ffffff;z-index:3;">0</span>
<span class="t" style="left:764.07px;top:421.77px;font-size:28.5px;color:#ffffff;z-index:3;">0</span>
<div class="b" style="left:788.60px;top:437.32px;width:10.00px;height:2.05px;background:#ffffff;z-index:3;"></div>
<svg class="b" style="left:806.53px;top:426.29px;z-index:3;" width="6.94" height="19.61" viewBox="197 0 499 1409"><path transform="translate(0,1409) scale(1,-1)" d="M515 0L515 1237L197 1010L197 1180L530 1409L696 1409L696 0Z" fill="#ffffff"/></svg>
<span class="t" style="left:815.48px;top:421.77px;font-size:28.5px;color:#ffffff;z-index:3;">6</span>
<span class="t" style="left:830.49px;top:421.77px;font-size:28.5px;color:#ffffff;z-index:3;">:</span>
<span class="t" style="left:837.67px;top:421.77px;font-size:28.5px;color:#ffffff;z-index:3;">0</span>
<span class="t" style="left:855.37px;top:421.77px;font-size:28.5px;color:#ffffff;z-index:3;">0</span>
<div class="b" style="left:886.9999999999995px;top:416px;width:128px;height:40px;background:#70431b;border-radius:8px;"></div>
<span class="t" style="left:899.63px;top:424.63px;font-size:23.23px;color:#fb952e;transform:scaleX(1.0660);-webkit-text-stroke:0.3px #fb952e;z-index:3;">Ожидает</span>
<svg class="b" style="left:1136px;top:424px;" width="8" height="24" viewBox="0 0 8 24"><circle cx="4" cy="4" r="2.750" fill="#ffffff"/><circle cx="4" cy="12" r="2.750" fill="#ffffff"/><circle cx="4" cy="20" r="2.750" fill="#ffffff"/></svg>
<div class="b" style="left:1180px;top:400px;width:750px;height:72px;background:#182554;border-radius:16px;"></div>
<svg class="b" style="left:1211.73px;top:426.29px;z-index:3;" width="6.94" height="19.61" viewBox="197 0 499 1409"><path transform="translate(0,1409) scale(1,-1)" d="M515 0L515 1237L197 1010L197 1180L530 1409L696 1409L696 0Z" fill="#ffffff"/></svg>
<span class="t" style="left:1220.68px;top:421.77px;font-size:28.5px;color:#ffffff;z-index:3;">6</span>
<span class="t" style="left:1235.69px;top:421.77px;font-size:28.5px;color:#ffffff;z-index:3;">:</span>
<span class="t" style="left:1242.87px;top:421.77px;font-size:28.5px;color:#ffffff;z-index:3;">0</span>
<span class="t" style="left:1260.57px;top:421.77px;font-size:28.5px;color:#ffffff;z-index:3;">0</span>
<div class="b" style="left:1285.10px;top:437.32px;width:10.00px;height:2.05px;background:#ffffff;z-index:3;"></div>
<span class="t" style="left:1302.17px;top:421.77px;font-size:28.5px;color:#ffffff;z-index:3;">2</span>
<span class="t" style="left:1318.37px;top:421.77px;font-size:28.5px;color:#ffffff;z-index:3;">0</span>
<span class="t" style="left:1333.49px;top:421.77px;font-size:28.5px;color:#ffffff;z-index:3;">:</span>
<svg class="b" style="left:1340.23px;top:426.29px;z-index:3;" width="6.94" height="19.61" viewBox="197 0 499 1409"><path transform="translate(0,1409) scale(1,-1)" d="M515 0L515 1237L197 1010L197 1180L530 1409L696 1409L696 0Z" fill="#ffffff"/></svg>
<span class="t" style="left:1349.15px;top:421.77px;font-size:28.5px;color:#ffffff;z-index:3;">5</span>
<div class="b" style="left:1380.4000000000015px;top:416px;width:196px;height:40px;background:#1e3a8a;border-radius:8px;"></div>
<span class="t" style="left:1392.18px;top:424.63px;font-size:23.23px;color:#4880fb;transform:scaleX(1.0727);-webkit-text-stroke:0.3px #4880fb;z-index:3;">Подтверждено</span>
<svg class="b" style="left:1826px;top:424px;" width="8" height="24" viewBox="0 0 8 24"><circle cx="4" cy="4" r="2.750" fill="#ffffff"/><circle cx="4" cy="12" r="2.750" fill="#ffffff"/><circle cx="4" cy="20" r="2.750" fill="#ffffff"/></svg>
<div class="b" style="left:188px;top:508px;width:686px;height:72px;background:linear-gradient(90deg,#262626 290px,#301b50 290px);border-radius:16px;"></div>
<svg class="b" style="left:219.73px;top:534.29px;z-index:3;" width="6.94" height="19.61" viewBox="197 0 499 1409"><path transform="translate(0,1409) scale(1,-1)" d="M515 0L515 1237L197 1010L197 1180L530 1409L696 1409L696 0Z" fill="#ffffff"/></svg>
<span class="t" style="left:226.96px;top:529.77px;font-size:28.5px;color:#ffffff;z-index:3;">7</span>
<span class="t" style="left:240.49px;top:529.77px;font-size:28.5px;color:#ffffff;z-index:3;">:</span>
<svg class="b" style="left:247.23px;top:534.29px;z-index:3;" width="6.94" height="19.61" viewBox="197 0 499 1409"><path transform="translate(0,1409) scale(1,-1)" d="M515 0L515 1237L197 1010L197 1180L530 1409L696 1409L696 0Z" fill="#ffffff"/></svg>
<span class="t" style="left:256.15px;top:529.77px;font-size:28.5px;color:#ffffff;z-index:3;">5</span>
<div class="b" style="left:280.30px;top:545.32px;width:10.00px;height:2.05px;background:#ffffff;z-index:3;"></div>
<span class="t" style="left:297.37px;top:529.77px;font-size:28.5px;color:#ffffff;z-index:3;">2</span>
<span class="t" style="left:313.57px;top:529.77px;font-size:28.5px;color:#ffffff;z-index:3;">0</span>
<span class="t" style="left:328.69px;top:529.77px;font-size:28.5px;color:#ffffff;z-index:3;">:</span>
<svg class="b" style="left:335.43px;top:534.29px;z-index:3;" width="6.94" height="19.61" viewBox="197 0 499 1409"><path transform="translate(0,1409) scale(1,-1)" d="M515 0L515 1237L197 1010L197 1180L530 1409L696 1409L696 0Z" fill="#ffffff"/></svg>
<span class="t" style="left:344.35px;top:529.77px;font-size:28.5px;color:#ffffff;z-index:3;">5</span>
<div class="b" style="left:375.5999999999997px;top:524px;width:142px;height:40px;background:linear-gradient(90deg,#3a3a3a 102.40000000000032px,#48247c 102.40000000000032px);border-radius:8px;"></div>
<span class="t" style="left:388.60px;top:532.52px;font-size:23.6px;color:transparent;transform:scaleX(1.0363);color:transparent;background:linear-gradient(90deg,#808080 86.27px,#a259f5 86.27px);-webkit-background-clip:text;background-clip:text;-webkit-text-stroke:0.35px transparent;z-index:3;">За столом</span>
<svg class="b" style="left:834px;top:532px;" width="8" height="24" viewBox="0 0 8 24"><circle cx="4" cy="4" r="2.750" fill="#ffffff"/><circle cx="4" cy="12" r="2.750" fill="#ffffff"/><circle cx="4" cy="20" r="2.750" fill="#ffffff"/></svg>
<div class="b" style="left:658px;top:616px;width:686px;height:72px;background:#301b50;border-radius:16px;"></div>
<svg class="b" style="left:689.73px;top:642.29px;z-index:3;" width="6.94" height="19.61" viewBox="197 0 499 1409"><path transform="translate(0,1409) scale(1,-1)" d="M515 0L515 1237L197 1010L197 1180L530 1409L696 1409L696 0Z" fill="#ffffff"/></svg>
<span class="t" style="left:696.96px;top:637.77px;font-size:28.5px;color:#ffffff;z-index:3;">7</span>
<span class="t" style="left:710.49px;top:637.77px;font-size:28.5px;color:#ffffff;z-index:3;">:</span>
<svg class="b" style="left:717.23px;top:642.29px;z-index:3;" width="6.94" height="19.61" viewBox="197 0 499 1409"><path transform="translate(0,1409) scale(1,-1)" d="M515 0L515 1237L197 1010L197 1180L530 1409L696 1409L696 0Z" fill="#ffffff"/></svg>
<span class="t" style="left:726.15px;top:637.77px;font-size:28.5px;color:#ffffff;z-index:3;">5</span>
<div class="b" style="left:750.30px;top:653.32px;width:10.00px;height:2.05px;background:#ffffff;z-index:3;"></div>
<span class="t" style="left:767.37px;top:637.77px;font-size:28.5px;color:#ffffff;z-index:3;">2</span>
<span class="t" style="left:783.57px;top:637.77px;font-size:28.5px;color:#ffffff;z-index:3;">0</span>
<span class="t" style="left:798.69px;top:637.77px;font-size:28.5px;color:#ffffff;z-index:3;">:</span>
<svg class="b" style="left:805.43px;top:642.29px;z-index:3;" width="6.94" height="19.61" viewBox="197 0 499 1409"><path transform="translate(0,1409) scale(1,-1)" d="M515 0L515 1237L197 1010L197 1180L530 1409L696 1409L696 0Z" fill="#ffffff"/></svg>
<span class="t" style="left:814.35px;top:637.77px;font-size:28.5px;color:#ffffff;z-index:3;">5</span>
<div class="b" style="left:845.5999999999997px;top:632px;width:142px;height:40px;background:#48247c;border-radius:8px;"></div>
<span class="t" style="left:858.60px;top:640.63px;font-size:23.23px;color:#a259f5;transform:scaleX(1.0528);-webkit-text-stroke:0.3px #a259f5;z-index:3;">За столом</span>
<svg class="b" style="left:1304px;top:640px;" width="8" height="24" viewBox="0 0 8 24"><circle cx="4" cy="4" r="2.750" fill="#ffffff"/><circle cx="4" cy="12" r="2.750" fill="#ffffff"/><circle cx="4" cy="20" r="2.750" fill="#ffffff"/></svg>
<div class="b" style="left:-256px;top:724px;width:686px;height:72px;background:#262626;border-radius:16px;"></div>
<svg class="b" style="left:-224.27px;top:750.29px;z-index:3;" width="6.94" height="19.61" viewBox="197 0 499 1409"><path transform="translate(0,1409) scale(1,-1)" d="M515 0L515 1237L197 1010L197 1180L530 1409L696 1409L696 0Z" fill="#ffffff"/></svg>
<span class="t" style="left:-217.04px;top:745.77px;font-size:28.5px;color:#ffffff;z-index:3;">7</span>
<span class="t" style="left:-203.51px;top:745.77px;font-size:28.5px;color:#ffffff;z-index:3;">:</span>
<svg class="b" style="left:-196.77px;top:750.29px;z-index:3;" width="6.94" height="19.61" viewBox="197 0 499 1409"><path transform="translate(0,1409) scale(1,-1)" d="M515 0L515 1237L197 1010L197 1180L530 1409L696 1409L696 0Z" fill="#ffffff"/></svg>
<span class="t" style="left:-187.85px;top:745.77px;font-size:28.5px;color:#ffffff;z-index:3;">5</span>
<div class="b" style="left:-163.70px;top:761.32px;width:10.00px;height:2.05px;background:#ffffff;z-index:3;"></div>
<span class="t" style="left:-146.63px;top:745.77px;font-size:28.5px;color:#ffffff;z-index:3;">2</span>
<span class="t" style="left:-130.43px;top:745.77px;font-size:28.5px;color:#ffffff;z-index:3;">0</span>
<span class="t" style="left:-115.31px;top:745.77px;font-size:28.5px;color:#ffffff;z-index:3;">:</span>
<svg class="b" style="left:-108.57px;top:750.29px;z-index:3;" width="6.94" height="19.61" viewBox="197 0 499 1409"><path transform="translate(0,1409) scale(1,-1)" d="M515 0L515 1237L197 1010L197 1180L530 1409L696 1409L696 0Z" fill="#ffffff"/></svg>
<span class="t" style="left:-99.65px;top:745.77px;font-size:28.5px;color:#ffffff;z-index:3;">5</span>
<div class="b" style="left:-68.40000000000032px;top:740px;width:196px;height:40px;background:#3a3a3a;border-radius:8px;"></div>
<span class="t" style="left:-56.62px;top:748.63px;font-size:23.23px;color:#808080;transform:scaleX(1.0727);-webkit-text-stroke:0.3px #808080;z-index:3;">Подтверждено</span>
<svg class="b" style="left:390px;top:748px;" width="8" height="24" viewBox="0 0 8 24"><circle cx="4" cy="4" r="2.750" fill="#ffffff"/><circle cx="4" cy="12" r="2.750" fill="#ffffff"/><circle cx="4" cy="20" r="2.750" fill="#ffffff"/></svg>
<div class="b" style="left:188px;top:832px;width:686px;height:72px;background:linear-gradient(90deg,#3a3a3a 290px,#5b2d2e 290px);border-radius:16px;"></div>
<svg class="b" style="left:219.73px;top:858.29px;z-index:3;" width="6.94" height="19.61" viewBox="197 0 499 1409"><path transform="translate(0,1409) scale(1,-1)" d="M515 0L515 1237L197 1010L197 1180L530 1409L696 1409L696 0Z" fill="#ffffff"/></svg>
<span class="t" style="left:226.96px;top:853.77px;font-size:28.5px;color:#ffffff;z-index:3;">7</span>
<span class="t" style="left:240.49px;top:853.77px;font-size:28.5px;color:#ffffff;z-index:3;">:</span>
<svg class="b" style="left:247.23px;top:858.29px;z-index:3;" width="6.94" height="19.61" viewBox="197 0 499 1409"><path transform="translate(0,1409) scale(1,-1)" d="M515 0L515 1237L197 1010L197 1180L530 1409L696 1409L696 0Z" fill="#ffffff"/></svg>
<span class="t" style="left:256.15px;top:853.77px;font-size:28.5px;color:#ffffff;z-index:3;">5</span>
<div class="b" style="left:280.30px;top:869.32px;width:10.00px;height:2.05px;background:#ffffff;z-index:3;"></div>
<span class="t" style="left:297.37px;top:853.77px;font-size:28.5px;color:#ffffff;z-index:3;">2</span>
<span class="t" style="left:313.57px;top:853.77px;font-size:28.5px;color:#ffffff;z-index:3;">0</span>
<span class="t" style="left:328.69px;top:853.77px;font-size:28.5px;color:#ffffff;z-index:3;">:</span>
<svg class="b" style="left:335.43px;top:858.29px;z-index:3;" width="6.94" height="19.61" viewBox="197 0 499 1409"><path transform="translate(0,1409) scale(1,-1)" d="M515 0L515 1237L197 1010L197 1180L530 1409L696 1409L696 0Z" fill="#ffffff"/></svg>
<span class="t" style="left:344.35px;top:853.77px;font-size:28.5px;color:#ffffff;z-index:3;">5</span>
<div class="b" style="left:375.5999999999997px;top:848px;width:150px;height:40px;background:linear-gradient(90deg,#4b4b4e 102.40000000000032px,#8a382d 102.40000000000032px);border-radius:8px;"></div>
<span class="t" style="left:387.40px;top:856.52px;font-size:23.6px;color:transparent;transform:scaleX(1.0328);color:transparent;background:linear-gradient(90deg,#838383 87.72px,#f24e3e 87.72px);-webkit-background-clip:text;background-clip:text;-webkit-text-stroke:0.35px transparent;z-index:3;">Не пришли</span>
<svg class="b" style="left:834px;top:856px;" width="8" height="24" viewBox="0 0 8 24"><circle cx="4" cy="4" r="2.750" fill="#ffffff"/><circle cx="4" cy="12" r="2.750" fill="#ffffff"/><circle cx="4" cy="20" r="2.750" fill="#ffffff"/></svg>
<div class="b" style="left:1136px;top:832px;width:686px;height:72px;background:linear-gradient(90deg,#3a3a3a 394px,#5b2d2e 394px);border-radius:16px;"></div>
<svg class="b" style="left:1167.73px;top:858.29px;z-index:3;" width="6.94" height="19.61" viewBox="197 0 499 1409"><path transform="translate(0,1409) scale(1,-1)" d="M515 0L515 1237L197 1010L197 1180L530 1409L696 1409L696 0Z" fill="#ffffff"/></svg>
<span class="t" style="left:1174.96px;top:853.77px;font-size:28.5px;color:#ffffff;z-index:3;">7</span>
<span class="t" style="left:1188.49px;top:853.77px;font-size:28.5px;color:#ffffff;z-index:3;">:</span>
<svg class="b" style="left:1195.23px;top:858.29px;z-index:3;" width="6.94" height="19.61" viewBox="197 0 499 1409"><path transform="translate(0,1409) scale(1,-1)" d="M515 0L515 1237L197 1010L197 1180L530 1409L696 1409L696 0Z" fill="#ffffff"/></svg>
<span class="t" style="left:1204.15px;top:853.77px;font-size:28.5px;color:#ffffff;z-index:3;">5</span>
<div class="b" style="left:1228.30px;top:869.32px;width:10.00px;height:2.05px;background:#ffffff;z-index:3;"></div>
<span class="t" style="left:1245.37px;top:853.77px;font-size:28.5px;color:#ffffff;z-index:3;">2</span>
<span class="t" style="left:1261.57px;top:853.77px;font-size:28.5px;color:#ffffff;z-index:3;">0</span>
<span class="t" style="left:1276.69px;top:853.77px;font-size:28.5px;color:#ffffff;z-index:3;">:</span>
<svg class="b" style="left:1283.43px;top:858.29px;z-index:3;" width="6.94" height="19.61" viewBox="197 0 499 1409"><path transform="translate(0,1409) scale(1,-1)" d="M515 0L515 1237L197 1010L197 1180L530 1409L696 1409L696 0Z" fill="#ffffff"/></svg>
<span class="t" style="left:1292.35px;top:853.77px;font-size:28.5px;color:#ffffff;z-index:3;">5</span>
<div class="b" style="left:1323.6000000000013px;top:848px;width:150px;height:40px;background:linear-gradient(90deg,#4b4b4e 206.39999999999873px,#8a382d 206.39999999999873px);border-radius:8px;"></div>
<span class="t" style="left:1335.40px;top:856.52px;font-size:23.6px;color:transparent;transform:scaleX(1.0328);color:transparent;background:linear-gradient(90deg,#838383 188.42px,#f24e3e 188.42px);-webkit-background-clip:text;background-clip:text;-webkit-text-stroke:0.35px transparent;z-index:3;">Не пришли</span>
<svg class="b" style="left:1782px;top:856px;" width="8" height="24" viewBox="0 0 8 24"><circle cx="4" cy="4" r="2.750" fill="#ffffff"/><circle cx="4" cy="12" r="2.750" fill="#ffffff"/><circle cx="4" cy="20" r="2.750" fill="#ffffff"/></svg>
<div class="b" style="left:1150px;top:1048px;width:686px;height:72px;background:#182554;border-radius:16px;"></div>
<svg class="b" style="left:1181.73px;top:1074.29px;z-index:3;" width="6.94" height="19.61" viewBox="197 0 499 1409"><path transform="translate(0,1409) scale(1,-1)" d="M515 0L515 1237L197 1010L197 1180L530 1409L696 1409L696 0Z" fill="#ffffff"/></svg>
<span class="t" style="left:1188.96px;top:1069.77px;font-size:28.5px;color:#ffffff;z-index:3;">7</span>
<span class="t" style="left:1202.49px;top:1069.77px;font-size:28.5px;color:#ffffff;z-index:3;">:</span>
<svg class="b" style="left:1209.23px;top:1074.29px;z-index:3;" width="6.94" height="19.61" viewBox="197 0 499 1409"><path transform="translate(0,1409) scale(1,-1)" d="M515 0L515 1237L197 1010L197 1180L530 1409L696 1409L696 0Z" fill="#ffffff"/></svg>
<span class="t" style="left:1218.15px;top:1069.77px;font-size:28.5px;color:#ffffff;z-index:3;">5</span>
<div class="b" style="left:1242.30px;top:1085.32px;width:10.00px;height:2.05px;background:#ffffff;z-index:3;"></div>
<span class="t" style="left:1259.37px;top:1069.77px;font-size:28.5px;color:#ffffff;z-index:3;">2</span>
<span class="t" style="left:1275.57px;top:1069.77px;font-size:28.5px;color:#ffffff;z-index:3;">0</span>
<span class="t" style="left:1290.69px;top:1069.77px;font-size:28.5px;color:#ffffff;z-index:3;">:</span>
<svg class="b" style="left:1297.43px;top:1074.29px;z-index:3;" width="6.94" height="19.61" viewBox="197 0 499 1409"><path transform="translate(0,1409) scale(1,-1)" d="M515 0L515 1237L197 1010L197 1180L530 1409L696 1409L696 0Z" fill="#ffffff"/></svg>
<span class="t" style="left:1306.35px;top:1069.77px;font-size:28.5px;color:#ffffff;z-index:3;">5</span>
<div class="b" style="left:1337.6000000000013px;top:1064px;width:196px;height:40px;background:#1e3a8a;border-radius:8px;"></div>
<span class="t" style="left:1349.38px;top:1072.63px;font-size:23.23px;color:#4880fb;transform:scaleX(1.0727);-webkit-text-stroke:0.3px #4880fb;z-index:3;">Подтверждено</span>
<svg class="b" style="left:1796px;top:1072px;" width="8" height="24" viewBox="0 0 8 24"><circle cx="4" cy="4" r="2.750" fill="#ffffff"/><circle cx="4" cy="12" r="2.750" fill="#ffffff"/><circle cx="4" cy="20" r="2.750" fill="#ffffff"/></svg>
<div class="b" style="left:552px;top:1156px;width:686px;height:72px;background:#182554;border-radius:16px;"></div>
<svg class="b" style="left:583.73px;top:1182.29px;z-index:3;" width="6.94" height="19.61" viewBox="197 0 499 1409"><path transform="translate(0,1409) scale(1,-1)" d="M515 0L515 1237L197 1010L197 1180L530 1409L696 1409L696 0Z" fill="#ffffff"/></svg>
<span class="t" style="left:590.96px;top:1177.77px;font-size:28.5px;color:#ffffff;z-index:3;">7</span>
<span class="t" style="left:604.49px;top:1177.77px;font-size:28.5px;color:#ffffff;z-index:3;">:</span>
<svg class="b" style="left:611.23px;top:1182.29px;z-index:3;" width="6.94" height="19.61" viewBox="197 0 499 1409"><path transform="translate(0,1409) scale(1,-1)" d="M515 0L515 1237L197 1010L197 1180L530 1409L696 1409L696 0Z" fill="#ffffff"/></svg>
<span class="t" style="left:620.15px;top:1177.77px;font-size:28.5px;color:#ffffff;z-index:3;">5</span>
<div class="b" style="left:644.30px;top:1193.32px;width:10.00px;height:2.05px;background:#ffffff;z-index:3;"></div>
<span class="t" style="left:661.37px;top:1177.77px;font-size:28.5px;color:#ffffff;z-index:3;">2</span>
<span class="t" style="left:677.57px;top:1177.77px;font-size:28.5px;color:#ffffff;z-index:3;">0</span>
<span class="t" style="left:692.69px;top:1177.77px;font-size:28.5px;color:#ffffff;z-index:3;">:</span>
<svg class="b" style="left:699.43px;top:1182.29px;z-index:3;" width="6.94" height="19.61" viewBox="197 0 499 1409"><path transform="translate(0,1409) scale(1,-1)" d="M515 0L515 1237L197 1010L197 1180L530 1409L696 1409L696 0Z" fill="#ffffff"/></svg>
<span class="t" style="left:708.35px;top:1177.77px;font-size:28.5px;color:#ffffff;z-index:3;">5</span>
<div class="b" style="left:739.5999999999997px;top:1172px;width:196px;height:40px;background:#1e3a8a;border-radius:8px;"></div>
<span class="t" style="left:751.38px;top:1180.63px;font-size:23.23px;color:#4880fb;transform:scaleX(1.0727);-webkit-text-stroke:0.3px #4880fb;z-index:3;">Подтверждено</span>
<svg class="b" style="left:1198px;top:1180px;" width="8" height="24" viewBox="0 0 8 24"><circle cx="4" cy="4" r="2.750" fill="#ffffff"/><circle cx="4" cy="12" r="2.750" fill="#ffffff"/><circle cx="4" cy="20" r="2.750" fill="#ffffff"/></svg>
<div class="b" style="left:-420px;top:1264px;width:686px;height:72px;background:#262626;border-radius:16px;"></div>
<svg class="b" style="left:-388.27px;top:1290.29px;z-index:3;" width="6.94" height="19.61" viewBox="197 0 499 1409"><path transform="translate(0,1409) scale(1,-1)" d="M515 0L515 1237L197 1010L197 1180L530 1409L696 1409L696 0Z" fill="#ffffff"/></svg>
<span class="t" style="left:-381.04px;top:1285.77px;font-size:28.5px;color:#ffffff;z-index:3;">7</span>
<span class="t" style="left:-367.51px;top:1285.77px;font-size:28.5px;color:#ffffff;z-index:3;">:</span>
<svg class="b" style="left:-360.77px;top:1290.29px;z-index:3;" width="6.94" height="19.61" viewBox="197 0 499 1409"><path transform="translate(0,1409) scale(1,-1)" d="M515 0L515 1237L197 1010L197 1180L530 1409L696 1409L696 0Z" fill="#ffffff"/></svg>
<span class="t" style="left:-351.85px;top:1285.77px;font-size:28.5px;color:#ffffff;z-index:3;">5</span>
<div class="b" style="left:-327.70px;top:1301.32px;width:10.00px;height:2.05px;background:#ffffff;z-index:3;"></div>
<span class="t" style="left:-310.63px;top:1285.77px;font-size:28.5px;color:#ffffff;z-index:3;">2</span>
<span class="t" style="left:-294.43px;top:1285.77px;font-size:28.5px;color:#ffffff;z-index:3;">0</span>
<span class="t" style="left:-279.31px;top:1285.77px;font-size:28.5px;color:#ffffff;z-index:3;">:</span>
<svg class="b" style="left:-272.57px;top:1290.29px;z-index:3;" width="6.94" height="19.61" viewBox="197 0 499 1409"><path transform="translate(0,1409) scale(1,-1)" d="M515 0L515 1237L197 1010L197 1180L530 1409L696 1409L696 0Z" fill="#ffffff"/></svg>
<span class="t" style="left:-263.65px;top:1285.77px;font-size:28.5px;color:#ffffff;z-index:3;">5</span>
<div class="b" style="left:-232.40000000000032px;top:1280px;width:196px;height:40px;background:#3a3a3a;border-radius:8px;"></div>
<span class="t" style="left:-220.62px;top:1288.63px;font-size:23.23px;color:#808080;transform:scaleX(1.0727);-webkit-text-stroke:0.3px #808080;z-index:3;">Подтверждено</span>
<svg class="b" style="left:226px;top:1288px;" width="8" height="24" viewBox="0 0 8 24"><circle cx="4" cy="4" r="2.750" fill="#ffffff"/><circle cx="4" cy="12" r="2.750" fill="#ffffff"/><circle cx="4" cy="20" r="2.750" fill="#ffffff"/></svg>
<div class="b" style="left:188px;top:1372px;width:686px;height:72px;background:linear-gradient(90deg,#262626 290px,#301b50 290px);border-radius:16px;"></div>
<svg class="b" style="left:219.73px;top:1398.29px;z-index:3;" width="6.94" height="19.61" viewBox="197 0 499 1409"><path transform="translate(0,1409) scale(1,-1)" d="M515 0L515 1237L197 1010L197 1180L530 1409L696 1409L696 0Z" fill="#ffffff"/></svg>
<span class="t" style="left:226.96px;top:1393.77px;font-size:28.5px;color:#ffffff;z-index:3;">7</span>
<span class="t" style="left:240.49px;top:1393.77px;font-size:28.5px;color:#ffffff;z-index:3;">:</span>
<svg class="b" style="left:247.23px;top:1398.29px;z-index:3;" width="6.94" height="19.61" viewBox="197 0 499 1409"><path transform="translate(0,1409) scale(1,-1)" d="M515 0L515 1237L197 1010L197 1180L530 1409L696 1409L696 0Z" fill="#ffffff"/></svg>
<span class="t" style="left:256.15px;top:1393.77px;font-size:28.5px;color:#ffffff;z-index:3;">5</span>
<div class="b" style="left:280.30px;top:1409.32px;width:10.00px;height:2.05px;background:#ffffff;z-index:3;"></div>
<span class="t" style="left:297.37px;top:1393.77px;font-size:28.5px;color:#ffffff;z-index:3;">2</span>
<span class="t" style="left:313.57px;top:1393.77px;font-size:28.5px;color:#ffffff;z-index:3;">0</span>
<span class="t" style="left:328.69px;top:1393.77px;font-size:28.5px;color:#ffffff;z-index:3;">:</span>
<svg class="b" style="left:335.43px;top:1398.29px;z-index:3;" width="6.94" height="19.61" viewBox="197 0 499 1409"><path transform="translate(0,1409) scale(1,-1)" d="M515 0L515 1237L197 1010L197 1180L530 1409L696 1409L696 0Z" fill="#ffffff"/></svg>
<span class="t" style="left:344.35px;top:1393.77px;font-size:28.5px;color:#ffffff;z-index:3;">5</span>
<div class="b" style="left:375.5999999999997px;top:1388px;width:142px;height:40px;background:linear-gradient(90deg,#3a3a3a 102.40000000000032px,#48247c 102.40000000000032px);border-radius:8px;"></div>
<span class="t" style="left:388.60px;top:1396.52px;font-size:23.6px;color:transparent;transform:scaleX(1.0363);color:transparent;background:linear-gradient(90deg,#808080 86.27px,#a259f5 86.27px);-webkit-background-clip:text;background-clip:text;-webkit-text-stroke:0.35px transparent;z-index:3;">За столом</span>
<svg class="b" style="left:834px;top:1396px;" width="8" height="24" viewBox="0 0 8 24"><circle cx="4" cy="4" r="2.750" fill="#ffffff"/><circle cx="4" cy="12" r="2.750" fill="#ffffff"/><circle cx="4" cy="20" r="2.750" fill="#ffffff"/></svg>
<div class="b" style="left:1784px;top:304px;width:48px;height:48px;background:#08296d;border-radius:16px;"></div>
<svg class="b" style="left:1796px;top:316px;" width="24" height="24" viewBox="0 0 24 24"><path d="M1.400 12H21M12.300 2.300L22 12L12.300 21.700" fill="none" stroke="#4d7efc" stroke-width="3" stroke-linecap="square" stroke-linejoin="miter"/></svg>
<div class="b" style="left:1774px;top:520px;width:48px;height:48px;background:#5a2718;border-radius:16px;"></div>
<svg class="b" style="left:1786px;top:532px;" width="24" height="24" viewBox="0 0 24 24"><path d="M1.400 12H21M12.300 2.300L22 12L12.300 21.700" fill="none" stroke="#f5923e" stroke-width="3" stroke-linecap="square" stroke-linejoin="miter"/></svg>
</div>
<div class="b" style="left:1722px;top:110px;width:6px;height:1366px;background:#6e6f73;z-index:2;"></div>
<div class="b" style="left:1722px;top:164px;width:6px;height:2px;background:#8b8a8d;z-index:2;"></div>
<div class="b" style="left:1722px;top:272px;width:6px;height:2px;background:#8b8a8d;z-index:2;"></div>
<div class="b" style="left:1722px;top:380px;width:6px;height:2px;background:#8b8a8d;z-index:2;"></div>
<div class="b" style="left:1722px;top:488px;width:6px;height:2px;background:#8b8a8d;z-index:2;"></div>
<div class="b" style="left:1722px;top:596px;width:6px;height:2px;background:#8b8a8d;z-index:2;"></div>
<div class="b" style="left:1722px;top:704px;width:6px;height:2px;background:#8b8a8d;z-index:2;"></div>
<div class="b" style="left:1722px;top:812px;width:6px;height:2px;background:#8b8a8d;z-index:2;"></div>
<div class="b" style="left:1722px;top:920px;width:6px;height:2px;background:#8b8a8d;z-index:2;"></div>
<div class="b" style="left:1722px;top:1028px;width:6px;height:2px;background:#8b8a8d;z-index:2;"></div>
<div class="b" style="left:1722px;top:1136px;width:6px;height:2px;background:#8b8a8d;z-index:2;"></div>
<div class="b" style="left:1722px;top:1244px;width:6px;height:2px;background:#8b8a8d;z-index:2;"></div>
<div class="b" style="left:1722px;top:1352px;width:6px;height:2px;background:#8b8a8d;z-index:2;"></div>
<div class="b" style="left:1722px;top:1460px;width:6px;height:2px;background:#8b8a8d;z-index:2;"></div>
<div class="b" style="left:1722px;top:292px;width:6px;height:72px;background:#89898c;z-index:2;"></div>
<div class="b" style="left:1722px;top:400px;width:6px;height:72px;background:#89898c;z-index:2;"></div>
<div class="b" style="left:1722px;top:616px;width:6px;height:72px;background:#89898c;z-index:2;"></div>
<div class="b" style="left:1722px;top:1156px;width:6px;height:72px;background:#89898c;z-index:2;"></div>
<div class="b" style="left:1722px;top:64px;width:6px;height:46px;background:#ffffff;z-index:2;"></div>
<div class="b" style="left:1717px;top:56px;width:16px;height:16px;background:#ffffff;border-radius:8px;z-index:2;"></div>
</div>
<div class="b" style="left:2814px;top:512px;width:2px;height:40px;background:#fa4b78;"></div>
<div class="b" style="left:0;top:0;width:0;height:0;z-index:10;">
<div class="b" style="left:2248px;top:1132px;width:480px;height:624px;background:#1f2026;border-radius:20px;border:2px solid #494a4f;box-shadow:0 4px 14px rgba(0,0,0,0.18);"></div>
<div class="b" style="left:2272px;top:1156px;width:40px;height:40px;background:#21a45b;border-radius:20px;"></div>
<span class="t" style="left:2285.15px;top:1164.09px;font-size:23.05px;color:#ffffff;-webkit-text-stroke:0.5px #ffffff;">А</span>
<span class="t" style="left:2328.95px;top:1162.02px;font-size:27.73px;color:#ffffff;transform:scaleX(1.0136);-webkit-text-stroke:0.3px #ffffff;">Артур</span>
<svg class="b" style="left:2328.14px;top:1202.88px;" width="5.99" height="16.92" viewBox="197 0 499 1409"><path transform="translate(0,1409) scale(1,-1)" d="M515 0L515 1237L197 1010L197 1180L530 1409L696 1409L696 0Z" fill="#8c8c8c"/></svg>
<span class="t" style="left:2335.84px;top:1198.97px;font-size:24.6px;color:#8c8c8c;">5</span>
<span class="t" style="left:2348.56px;top:1198.97px;font-size:24.6px;color:#8c8c8c;">:</span>
<svg class="b" style="left:2354.38px;top:1202.88px;" width="5.99" height="16.92" viewBox="197 0 499 1409"><path transform="translate(0,1409) scale(1,-1)" d="M515 0L515 1237L197 1010L197 1180L530 1409L696 1409L696 0Z" fill="#8c8c8c"/></svg>
<span class="t" style="left:2362.08px;top:1198.97px;font-size:24.6px;color:#8c8c8c;">5</span>
<div class="b" style="left:2382.92px;top:1212.40px;width:8.63px;height:1.77px;background:#8c8c8c;"></div>
<span class="t" style="left:2397.66px;top:1198.97px;font-size:24.6px;color:#8c8c8c;">2</span>
<span class="t" style="left:2411.65px;top:1198.97px;font-size:24.6px;color:#8c8c8c;">0</span>
<span class="t" style="left:2424.69px;top:1198.97px;font-size:24.6px;color:#8c8c8c;">:</span>
<svg class="b" style="left:2430.51px;top:1202.88px;" width="5.99" height="16.92" viewBox="197 0 499 1409"><path transform="translate(0,1409) scale(1,-1)" d="M515 0L515 1237L197 1010L197 1180L530 1409L696 1409L696 0Z" fill="#8c8c8c"/></svg>
<span class="t" style="left:2438.21px;top:1198.97px;font-size:24.6px;color:#8c8c8c;">5</span>
<div class="b" style="left:2260px;top:1248px;width:456px;height:64px;background:#2e3036;border-radius:16px;"></div>
<span class="t" style="left:2278.72px;top:1266.42px;font-size:27.73px;color:#ffffff;transform:scaleX(1.0030);-webkit-text-stroke:0.3px #ffffff;">Изменить дату</span>
<svg class="b" style="left:2666px;top:1260px;" width="36" height="36" viewBox="0 0 36 36"><rect x="2.500" y="7.500" width="31" height="26.500" rx="1.500" fill="none" stroke="#a0a0a6" stroke-width="3"/><path d="M11 1.500v9M25 1.500v9M2.500 17.500h31" stroke="#a0a0a6" stroke-width="3" fill="none"/></svg>
<span class="t" style="left:2278.70px;top:1338.42px;font-size:27.73px;color:#ffffff;transform:scaleX(1.0241);-webkit-text-stroke:0.3px #ffffff;">Подробнее о брони</span>
<svg class="b" style="left:2670px;top:1338px;" width="28" height="28" viewBox="0 0 28 28"><circle cx="14" cy="14" r="11.8" fill="none" stroke="#a0a0a6" stroke-width="2.6"/><path d="M14 13v6.500" stroke="#a0a0a6" stroke-width="2.6" stroke-linecap="round"/><circle cx="14" cy="8.800" r="1.600" fill="#a0a0a6"/></svg>
<span class="t" style="left:2279.59px;top:1410.42px;font-size:27.73px;color:#ffffff;-webkit-text-stroke:0.3px #ffffff;">Сменить статус</span>
<svg class="b" style="left:2672px;top:1412px;" width="24" height="24" viewBox="0 0 24 24"><path d="M4.500 8l7.500 7.500l7.500-7.500" fill="none" stroke="#a0a0a6" stroke-width="3" stroke-linecap="round" stroke-linejoin="round"/></svg>
<span class="t" style="left:2335.59px;top:1481.59px;font-size:28.6px;color:#9c9c9c;transform:scaleX(0.9732);">За столом</span>
<span class="t" style="left:2334.20px;top:1553.59px;font-size:28.6px;color:#9c9c9c;transform:scaleX(0.9794);">Не пришли</span>
<span class="t" style="left:2334.19px;top:1625.59px;font-size:28.6px;color:#9c9c9c;transform:scaleX(0.9945);">Подтверждено</span>
<span class="t" style="left:2279.27px;top:1698.22px;font-size:27.73px;color:#ffffff;transform:scaleX(1.0127);-webkit-text-stroke:0.3px #ffffff;">Отменить бронь</span>
<svg class="b" style="left:2672px;top:1700px;" width="24" height="24" viewBox="0 0 24 24"><path d="M3 3l18 18M21 3l-18 18" fill="none" stroke="#a0a0a6" stroke-width="3" stroke-linecap="round"/></svg>
<svg class="b" style="left:2450px;top:1280px;" width="60" height="50" viewBox="0 0 60 50"><path d="M19.400 14.200Q19.200 11.500 22 11.500Q24.400 11.500 24.800 14.200L25.900 18.500L26.800 24L27.200 20.600Q27.400 18.800 29.200 18.800Q31 18.800 31.300 20.600L32.300 24L33.600 21.300Q34.200 19.700 35.800 19.700Q37.400 19.700 37.700 21.300L38.500 24.200L39.900 22.300Q40.600 20.900 41.800 21Q43.200 21.200 43.200 22.800L43.400 26.200L42.200 32.300L38.600 38.500L38.800 42.500H35.400L33.400 40.300L30.600 42.800H24.600V40.200L21.800 37.800L17.600 33.200L14.200 27.600Q13 25 15 23.900Q16.400 23.200 17.800 24.400L22 27.600L20.600 21.600Z" fill="#0b0c0f" stroke="#ffffff" stroke-width="1.600" stroke-linejoin="round"/><path d="M28 29.800v7.800M32 29.800v7.800M35.900 29.800v7.800" stroke="#dcdcdc" stroke-width="1.800" fill="none"/></svg>
</div>
</div></body></html>
